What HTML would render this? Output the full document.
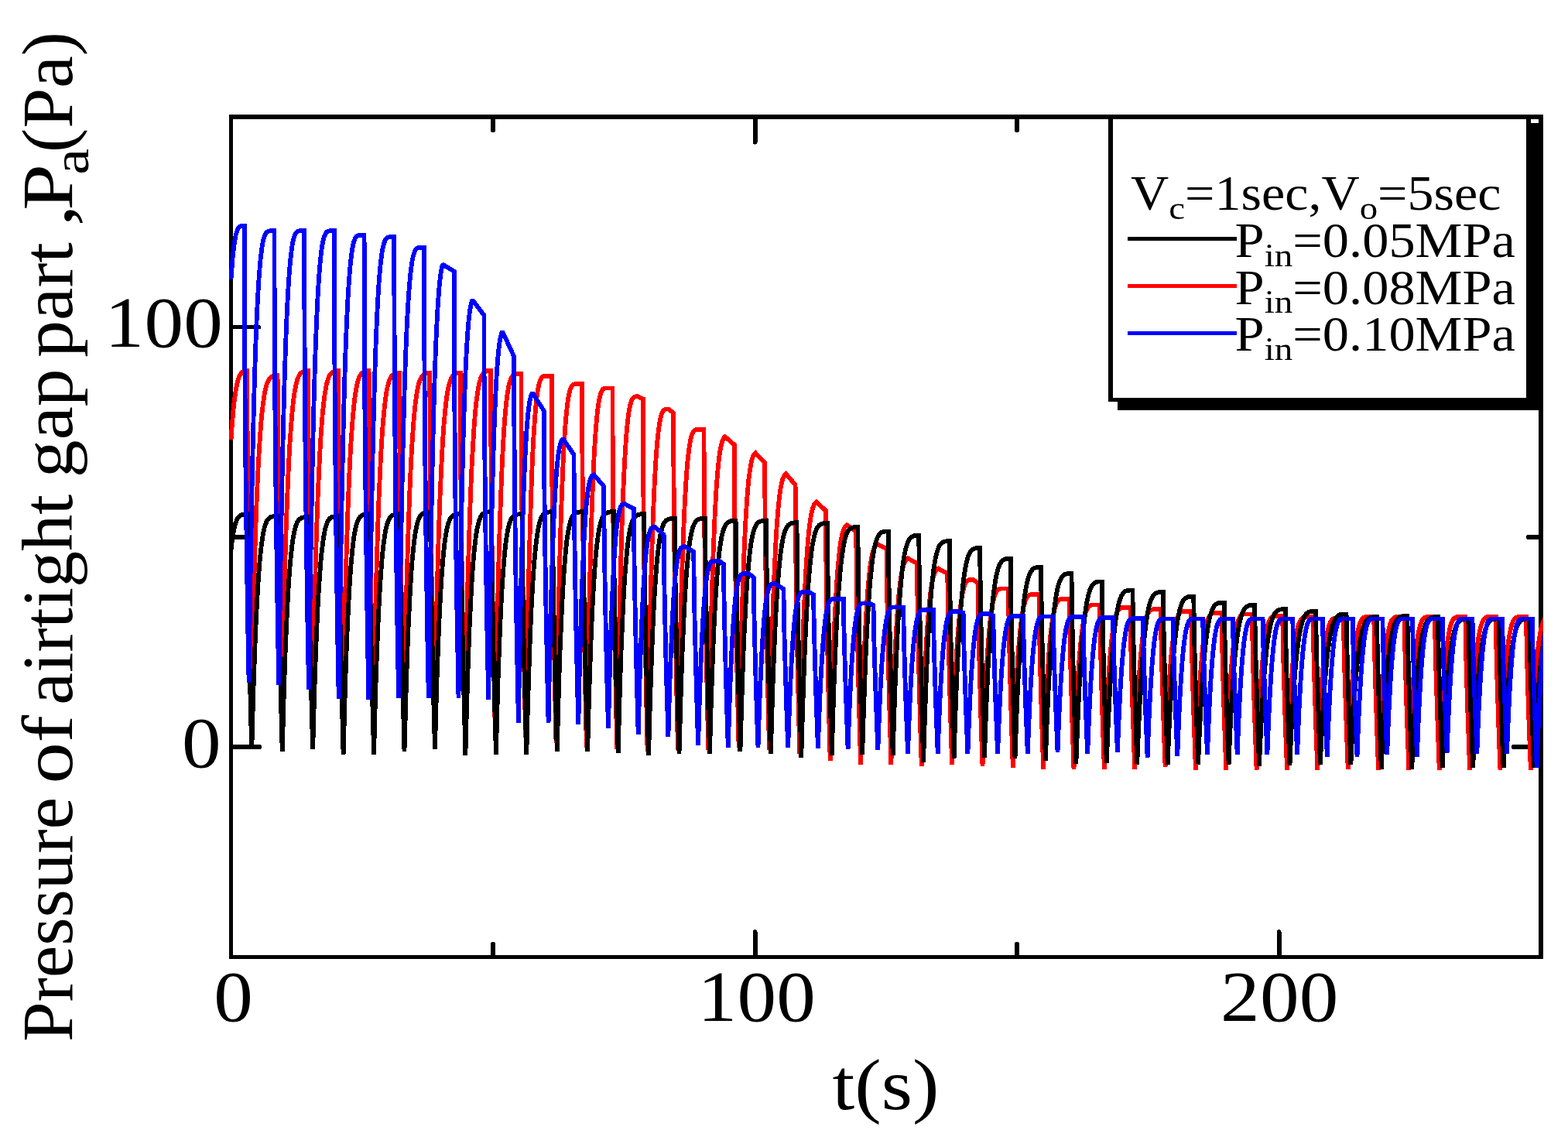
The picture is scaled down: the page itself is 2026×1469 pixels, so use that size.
<!DOCTYPE html>
<html lang="en"><head><meta charset="utf-8"><title>Pressure of airtight gap part</title>
<style>html,body{margin:0;padding:0;background:#fff;overflow:hidden}body{width:2026px;height:1469px}svg text{white-space:pre}</style>
</head><body>
<svg xmlns="http://www.w3.org/2000/svg" width="2026" height="1469" viewBox="0 0 2026 1469" style="display:block">
<rect x="0" y="0" width="2026" height="1469" fill="#ffffff"/>
<g stroke="#000" stroke-width="6" stroke-linecap="round" shape-rendering="crispEdges">
<line x1="637.0" y1="1236.5" x2="637.0" y2="1219.5"/>
<line x1="637.0" y1="151.2" x2="637.0" y2="168.2"/>
<line x1="975.5" y1="1236.5" x2="975.5" y2="1204.1"/>
<line x1="975.5" y1="151.2" x2="975.5" y2="183.6"/>
<line x1="1314.0" y1="1236.5" x2="1314.0" y2="1219.5"/>
<line x1="1314.0" y1="151.2" x2="1314.0" y2="168.2"/>
<line x1="1652.5" y1="1236.5" x2="1652.5" y2="1204.1"/>
<line x1="1652.5" y1="151.2" x2="1652.5" y2="183.6"/>
<line x1="298.5" y1="965.05" x2="335.0" y2="965.05" stroke-width="6"/>
<line x1="1991.0" y1="965.05" x2="1956.0" y2="965.05" stroke-width="6"/>
<line x1="298.5" y1="694.00" x2="316.5" y2="694.00" stroke-width="6"/>
<line x1="1991.0" y1="694.00" x2="1974.5" y2="694.00" stroke-width="6"/>
<line x1="298.5" y1="422.70" x2="335.0" y2="422.70" stroke-width="5"/>
<line x1="1991.0" y1="422.70" x2="1956.0" y2="422.70" stroke-width="5"/>
</g>
<g fill="#000" shape-rendering="crispEdges">
<rect x="296.0" y="148.0" width="1698.0" height="5.8"/>
<rect x="296.0" y="148.0" width="5.0" height="1090.8"/>
<rect x="296.0" y="1234.1" width="1698.0" height="4.7"/>
<rect x="1988.2" y="148.0" width="5.8" height="1090.8"/>
</g>
<clipPath id="plotclip"><rect x="296" y="148" width="1698" height="1090.8"/></clipPath>
<g shape-rendering="crispEdges" clip-path="url(#plotclip)">
<polyline points="298.5,568.4 299.1,559.4 299.7,551.1 300.3,543.5 300.9,536.6 301.4,530.2 302.0,524.4 302.6,519.1 303.2,514.3 303.8,509.9 304.4,506.0 305.0,502.5 305.6,499.4 306.2,496.6 306.8,494.1 307.3,491.9 307.9,489.9 308.5,488.2 309.1,486.7 309.7,485.5 310.3,484.3 310.9,483.4 311.5,482.6 312.1,481.8 312.7,481.2 313.2,480.7 313.8,480.3 314.4,479.9 315.0,479.6 315.6,479.3 316.2,479.1 319.2,479.1 319.4,530.4 319.8,581.7 320.3,633.0 321.0,684.3 321.8,735.6 322.8,786.9 323.8,838.2 325.0,889.5 326.0,841.1 327.0,797.3 328.1,757.6 329.1,721.9 330.1,689.9 331.1,661.3 332.1,635.9 333.1,613.3 334.2,593.4 335.2,576.0 336.2,560.8 337.2,547.7 338.2,536.4 339.3,526.8 340.3,518.6 341.3,511.8 342.3,506.1 343.3,501.4 344.4,497.6 345.4,494.6 346.4,492.2 347.4,490.4 348.4,488.9 349.4,487.8 350.5,487.0 351.5,486.4 352.5,486.0 353.5,485.6 354.5,485.3 355.6,485.0 358.6,485.0 358.7,536.4 359.1,587.9 359.7,639.3 360.3,690.8 361.2,742.2 362.1,793.6 363.2,845.1 364.4,896.5 365.4,846.6 366.4,801.3 367.4,760.4 368.4,723.6 369.4,690.6 370.5,661.0 371.5,634.8 372.5,611.5 373.5,591.0 374.5,573.0 375.6,557.4 376.6,543.8 377.6,532.2 378.6,522.2 379.6,513.8 380.6,506.7 381.7,500.9 382.7,496.1 383.7,492.1 384.7,489.0 385.7,486.6 386.8,484.6 387.8,483.2 388.8,482.0 389.8,481.2 390.8,480.6 391.9,480.1 392.9,479.7 393.9,479.4 394.9,479.1 397.9,479.1 398.1,532.1 398.4,585.2 399.0,638.2 399.7,691.3 400.5,744.3 401.4,797.4 402.5,850.5 403.7,903.5 404.7,852.7 405.7,806.7 406.8,765.1 407.8,727.7 408.8,694.1 409.8,664.1 410.8,637.4 411.9,613.7 412.9,592.9 413.9,574.6 414.9,558.7 415.9,544.9 416.9,533.0 418.0,522.9 419.0,514.4 420.0,507.2 421.0,501.2 422.0,496.3 423.1,492.4 424.1,489.2 425.1,486.7 426.1,484.7 427.1,483.2 428.1,482.1 429.2,481.2 430.2,480.6 431.2,480.1 432.2,479.7 433.2,479.4 434.3,479.1 437.3,479.1 437.4,533.0 437.8,586.9 438.3,640.9 439.0,694.8 439.8,748.7 440.8,802.6 441.9,856.6 443.1,910.5 444.1,858.9 445.1,812.2 446.1,769.9 447.1,731.8 448.2,697.7 449.2,667.2 450.2,640.0 451.2,616.0 452.2,594.8 453.2,576.3 454.3,560.1 455.3,546.1 456.3,534.0 457.3,523.7 458.3,515.0 459.4,507.7 460.4,501.7 461.4,496.7 462.4,492.7 463.4,489.5 464.4,486.9 465.5,484.9 466.5,483.4 467.5,482.2 468.5,481.4 469.5,480.7 470.6,480.2 471.6,479.8 472.6,479.5 473.6,479.2 476.6,479.2 476.8,534.0 477.1,588.8 477.7,643.6 478.3,698.4 479.2,753.1 480.1,807.9 481.2,862.7 482.4,917.5 483.4,865.4 484.4,818.2 485.5,775.5 486.5,737.1 487.5,702.6 488.5,671.8 489.5,644.4 490.6,620.1 491.6,598.7 492.6,580.0 493.6,563.7 494.6,549.5 495.7,537.4 496.7,527.0 497.7,518.2 498.7,510.8 499.7,504.7 500.7,499.7 501.8,495.6 502.8,492.4 503.8,489.8 504.8,487.8 505.8,486.2 506.9,485.1 507.9,484.2 508.9,483.5 509.9,483.0 510.9,482.6 511.9,482.3 513.0,482.0 516.0,482.0 516.1,537.3 516.5,592.6 517.0,647.9 517.7,703.2 518.5,758.6 519.5,813.9 520.6,869.2 521.8,924.5 522.8,871.6 523.8,823.6 524.8,780.2 525.8,741.2 526.9,706.2 527.9,674.9 528.9,647.0 529.9,622.4 530.9,600.6 531.9,581.6 533.0,565.0 534.0,550.6 535.0,538.2 536.0,527.7 537.0,518.8 538.1,511.3 539.1,505.1 540.1,500.0 541.1,495.8 542.1,492.5 543.2,489.9 544.2,487.9 545.2,486.3 546.2,485.1 547.2,484.2 548.2,483.6 549.3,483.1 550.3,482.6 551.3,482.3 552.3,482.0 555.3,482.0 555.5,538.2 555.8,594.4 556.3,650.6 557.0,706.8 557.9,762.9 558.8,819.1 559.9,875.3 561.1,931.5 562.1,877.7 563.2,829.0 564.2,785.0 565.2,745.3 566.2,709.7 567.2,677.9 568.2,649.6 569.3,624.6 570.3,602.5 571.3,583.1 572.3,566.3 573.3,551.7 574.4,539.1 575.4,528.4 576.4,519.4 577.4,511.8 578.4,505.4 579.4,500.3 580.5,496.1 581.5,492.7 582.5,490.0 583.5,488.0 584.5,486.4 585.6,485.2 586.6,484.3 587.6,483.6 588.6,483.1 589.6,482.7 590.7,482.3 591.7,482.0 594.7,482.0 594.8,539.1 595.2,596.1 595.7,653.2 596.4,710.2 597.2,767.3 598.2,824.4 599.2,881.4 600.5,938.5 601.5,883.5 602.5,833.7 603.5,788.6 604.5,748.0 605.6,711.6 606.6,679.1 607.6,650.2 608.6,624.5 609.6,602.0 610.7,582.2 611.7,564.9 612.7,550.0 613.7,537.1 614.7,526.2 615.7,516.9 616.8,509.1 617.8,502.7 618.8,497.4 619.8,493.1 620.8,489.6 621.9,486.9 622.9,484.8 623.9,483.2 624.9,481.9 625.9,481.0 627.0,480.3 628.0,479.8 629.0,479.4 630.0,479.0 631.0,478.7 634.0,478.7 634.2,537.0 634.5,595.4 635.0,653.8 635.7,712.1 636.5,770.5 637.5,828.8 638.6,887.1 639.8,945.5 640.8,887.4 641.9,834.9 642.9,787.6 643.9,745.3 644.9,707.5 645.9,673.9 647.0,644.2 648.0,618.1 649.0,595.3 650.0,575.5 651.0,558.5 652.0,543.9 653.1,531.6 654.1,521.2 655.1,512.6 656.1,505.6 657.1,499.9 658.2,495.4 659.2,491.9 660.2,489.3 661.2,487.3 662.2,485.8 663.2,484.8 664.3,484.1 665.3,483.7 666.3,483.4 667.3,483.2 668.3,483.0 669.4,482.9 670.4,482.7 673.4,482.7 673.5,541.4 673.9,600.1 674.4,658.9 675.0,717.6 675.9,776.3 676.8,835.0 677.9,893.8 679.2,952.5 680.3,884.8 681.4,824.6 682.5,771.4 683.7,724.5 684.8,683.4 685.9,647.8 687.0,617.1 688.1,590.9 689.2,568.7 690.4,550.1 691.5,534.8 692.6,522.3 693.7,512.3 694.8,504.5 696.0,498.4 697.1,494.0 698.2,490.8 699.3,488.5 700.4,487.1 701.5,486.3 702.7,485.8 703.8,485.7 704.9,485.6 706.0,485.6 707.1,485.6 708.3,485.6 709.4,485.6 710.5,485.6 711.6,485.6 712.7,485.6 712.9,544.8 713.2,604.1 713.7,663.3 714.4,722.5 715.2,781.8 716.2,841.0 717.3,900.3 718.5,959.5 719.6,892.4 720.8,832.6 721.9,779.8 723.0,733.2 724.1,692.5 725.2,657.2 726.4,626.7 727.5,600.7 728.6,578.7 729.7,560.2 730.8,545.0 732.0,532.6 733.1,522.7 734.2,514.9 735.3,508.9 736.4,504.5 737.5,501.3 738.7,499.1 739.8,497.7 740.9,496.9 742.0,496.4 743.1,496.3 744.3,496.2 745.4,496.2 746.5,496.2 747.6,496.2 748.7,496.2 749.8,496.2 751.0,496.2 752.1,496.2 752.2,554.9 752.6,613.6 753.1,672.3 753.8,731.0 754.6,789.7 755.5,848.4 756.6,907.1 757.9,965.8 759.0,898.5 760.1,838.6 761.2,785.6 762.4,739.0 763.5,698.2 764.6,662.7 765.7,632.2 766.8,606.1 767.9,584.1 769.1,565.6 770.2,550.3 771.3,537.9 772.4,528.0 773.5,520.2 774.7,514.2 775.8,509.7 776.9,506.5 778.0,504.3 779.1,502.9 780.3,502.1 781.4,501.6 782.5,501.5 783.6,501.4 784.7,501.4 785.8,501.4 787.0,501.4 788.1,501.4 789.2,501.4 790.3,501.4 791.4,501.4 791.6,559.7 791.9,617.9 792.4,676.2 793.1,734.5 793.9,792.7 794.9,851.0 796.0,909.2 797.2,967.5 798.1,913.8 799.0,864.9 799.9,820.5 800.8,780.3 801.7,744.1 802.6,711.6 803.5,682.5 804.4,656.7 805.3,633.9 806.2,613.8 807.1,596.2 808.0,581.0 808.9,567.9 809.8,556.7 810.7,547.2 811.6,539.3 812.5,532.8 813.4,527.5 814.3,523.3 815.2,520.0 816.1,517.5 817.0,515.6 817.9,514.3 818.8,513.4 819.7,512.8 820.6,512.5 821.5,512.3 822.4,512.2 823.3,512.2 824.2,512.2 830.8,515.4 830.9,572.4 831.3,629.4 831.8,686.4 832.5,743.3 833.3,800.3 834.3,857.3 835.4,914.3 836.6,971.3 837.5,919.1 838.4,871.5 839.3,828.3 840.2,789.2 841.1,754.0 842.0,722.4 842.9,694.1 843.8,669.0 844.7,646.8 845.6,627.2 846.5,610.1 847.4,595.3 848.3,582.6 849.2,571.7 850.1,562.5 851.0,554.8 851.9,548.5 852.8,543.3 853.7,539.2 854.6,536.0 855.5,533.5 856.4,531.7 857.3,530.4 858.2,529.5 859.1,529.0 860.0,528.7 860.9,528.5 861.8,528.4 862.7,528.4 863.6,528.4 870.1,533.4 870.3,587.8 870.7,642.2 871.2,696.7 871.9,751.1 872.7,805.5 873.7,859.9 874.7,914.4 875.9,968.8 877.1,908.8 878.2,855.5 879.3,808.2 880.4,766.6 881.5,730.3 882.7,698.7 883.8,671.5 884.9,648.2 886.0,628.6 887.1,612.1 888.2,598.5 889.4,587.4 890.5,578.6 891.6,571.6 892.7,566.3 893.8,562.3 895.0,559.5 896.1,557.5 897.2,556.3 898.3,555.5 899.4,555.1 900.5,555.0 901.7,554.9 902.8,554.9 903.9,554.9 905.0,554.9 906.1,554.9 907.3,554.9 908.4,554.9 909.5,554.9 909.7,607.7 910.0,659.3 910.6,710.9 911.3,762.5 912.1,814.0 913.1,865.6 914.1,917.2 915.3,968.8 916.0,930.4 916.7,894.6 917.4,861.5 918.2,830.9 918.9,802.6 919.6,776.6 920.3,752.7 921.0,730.8 921.7,710.8 922.5,692.7 923.2,676.2 923.9,661.3 924.6,647.8 925.3,635.8 926.0,625.1 926.8,615.5 927.5,607.1 928.2,599.7 928.9,593.3 929.6,587.7 930.3,583.0 931.1,578.9 931.8,575.5 932.5,572.6 933.2,570.3 933.9,568.4 934.6,566.9 935.4,565.7 936.1,564.8 936.8,564.2 948.8,574.6 949.0,623.6 949.4,672.5 950.0,721.5 950.7,770.5 951.5,819.5 952.4,868.5 953.5,917.4 954.6,966.4 955.4,930.2 956.1,896.5 956.8,865.3 957.5,836.5 958.2,809.9 958.9,785.3 959.7,762.8 960.4,742.2 961.1,723.4 961.8,706.2 962.5,690.7 963.2,676.6 964.0,664.0 964.7,652.7 965.4,642.5 966.1,633.6 966.8,625.6 967.5,618.7 968.3,612.6 969.0,607.4 969.7,602.9 970.4,599.0 971.1,595.8 971.8,593.1 972.6,590.9 973.3,589.1 974.0,587.7 974.7,586.6 975.4,585.8 976.1,585.2 988.2,598.0 988.4,644.4 988.8,690.7 989.4,737.0 990.1,783.4 990.9,829.8 991.8,876.1 992.9,922.4 994.0,968.8 994.7,934.9 995.4,903.4 996.2,874.2 996.9,847.2 997.6,822.3 998.3,799.4 999.0,778.3 999.7,759.0 1000.5,741.4 1001.2,725.3 1001.9,710.8 1002.6,697.7 1003.3,685.8 1004.0,675.2 1004.8,665.8 1005.5,657.4 1006.2,649.9 1006.9,643.4 1007.6,637.8 1008.3,632.9 1009.1,628.6 1009.8,625.1 1010.5,622.0 1011.2,619.5 1011.9,617.5 1012.6,615.8 1013.4,614.5 1014.1,613.4 1014.8,612.7 1015.5,612.1 1027.6,626.4 1027.8,669.8 1028.2,713.2 1028.8,756.7 1029.5,800.1 1030.3,843.5 1031.2,886.9 1032.2,930.4 1033.4,973.8 1034.1,942.9 1034.8,914.2 1035.5,887.6 1036.2,863.0 1036.9,840.2 1037.7,819.3 1038.4,800.1 1039.1,782.5 1039.8,766.5 1040.5,751.8 1041.2,738.6 1042.0,726.6 1042.7,715.8 1043.4,706.1 1044.1,697.5 1044.8,689.9 1045.5,683.1 1046.3,677.2 1047.0,672.0 1047.7,667.5 1048.4,663.7 1049.1,660.4 1049.8,657.7 1050.6,655.4 1051.3,653.5 1052.0,652.0 1052.7,650.8 1053.4,649.8 1054.1,649.1 1054.9,648.6 1066.9,659.7 1067.1,700.0 1067.6,740.4 1068.2,780.8 1068.9,821.1 1069.7,861.5 1070.6,901.8 1071.6,942.1 1072.7,982.5 1073.4,953.6 1074.1,926.7 1074.9,901.8 1075.6,878.8 1076.3,857.5 1077.0,838.0 1077.7,820.0 1078.4,803.5 1079.2,788.5 1079.9,774.8 1080.6,762.4 1081.3,751.2 1082.0,741.1 1082.7,732.1 1083.5,724.0 1084.2,716.8 1084.9,710.5 1085.6,704.9 1086.3,700.1 1087.0,695.9 1087.8,692.3 1088.5,689.2 1089.2,686.7 1089.9,684.5 1090.6,682.8 1091.3,681.4 1092.1,680.2 1092.8,679.3 1093.5,678.7 1094.2,678.2 1106.3,686.9 1106.5,724.5 1107.0,762.0 1107.6,799.6 1108.3,837.2 1109.1,874.8 1110.0,912.4 1111.0,949.9 1112.1,987.5 1112.8,960.5 1113.5,935.3 1114.2,912.1 1114.9,890.5 1115.6,870.6 1116.4,852.3 1117.1,835.5 1117.8,820.1 1118.5,806.1 1119.2,793.3 1119.9,781.7 1120.7,771.2 1121.4,761.7 1122.1,753.3 1122.8,745.7 1123.5,739.0 1124.2,733.1 1125.0,727.9 1125.7,723.4 1126.4,719.5 1127.1,716.1 1127.8,713.2 1128.5,710.8 1129.3,708.8 1130.0,707.2 1130.7,705.8 1131.4,704.8 1132.1,704.0 1132.8,703.4 1133.6,702.9 1145.6,709.1 1145.9,743.9 1146.4,778.7 1147.0,813.5 1147.7,848.3 1148.5,883.1 1149.4,917.9 1150.4,952.7 1151.4,987.5 1152.1,962.2 1152.8,938.7 1153.6,917.0 1154.3,896.8 1155.0,878.2 1155.7,861.1 1156.4,845.4 1157.1,831.0 1157.9,817.8 1158.6,805.9 1159.3,795.0 1160.0,785.2 1160.7,776.4 1161.4,768.5 1162.2,761.4 1162.9,755.2 1163.6,749.6 1164.3,744.8 1165.0,740.5 1165.7,736.9 1166.5,733.7 1167.2,731.1 1167.9,728.8 1168.6,726.9 1169.3,725.4 1170.0,724.2 1170.8,723.2 1171.5,722.4 1172.2,721.8 1172.9,721.4 1185.0,727.6 1185.3,760.4 1185.7,793.2 1186.4,826.0 1187.1,858.8 1187.9,891.5 1188.8,924.3 1189.7,957.1 1190.8,989.9 1191.5,965.6 1192.2,943.1 1192.9,922.2 1193.6,902.9 1194.3,885.0 1195.1,868.6 1195.8,853.5 1196.5,839.7 1197.2,827.1 1197.9,815.6 1198.6,805.2 1199.4,795.8 1200.1,787.3 1200.8,779.7 1201.5,772.9 1202.2,766.9 1202.9,761.6 1203.7,756.9 1204.4,752.9 1205.1,749.4 1205.8,746.3 1206.5,743.8 1207.2,741.6 1208.0,739.8 1208.7,738.3 1209.4,737.1 1210.1,736.2 1210.8,735.5 1211.5,734.9 1212.3,734.5 1224.3,741.2 1224.6,772.0 1225.1,802.8 1225.8,833.6 1226.5,864.3 1227.3,895.1 1228.2,925.9 1229.1,956.7 1230.1,987.5 1231.0,959.3 1231.9,933.7 1232.8,910.4 1233.7,889.3 1234.6,870.3 1235.5,853.2 1236.4,838.0 1237.3,824.4 1238.2,812.4 1239.1,801.9 1240.0,792.7 1240.9,784.7 1241.8,777.8 1242.7,771.9 1243.6,767.0 1244.5,762.8 1245.4,759.4 1246.3,756.7 1247.2,754.4 1248.1,752.7 1249.0,751.4 1249.9,750.4 1250.8,749.7 1251.7,749.2 1252.6,748.9 1253.5,748.7 1254.4,748.6 1255.3,748.6 1256.2,748.6 1257.1,748.6 1263.7,753.5 1264.0,783.0 1264.5,812.6 1265.1,842.1 1265.9,871.7 1266.7,901.2 1267.5,930.8 1268.5,960.3 1269.5,989.9 1270.6,956.6 1271.7,927.1 1272.8,900.9 1273.9,877.8 1275.1,857.6 1276.2,840.1 1277.3,825.0 1278.4,812.2 1279.5,801.2 1280.7,792.1 1281.8,784.6 1282.9,778.4 1284.0,773.5 1285.1,769.7 1286.2,766.7 1287.4,764.5 1288.5,762.9 1289.6,761.8 1290.7,761.2 1291.8,760.7 1293.0,760.5 1294.1,760.4 1295.2,760.4 1296.3,760.4 1297.4,760.4 1298.6,760.4 1299.7,760.4 1300.8,760.4 1301.9,760.4 1303.0,760.4 1303.3,790.2 1303.9,818.9 1304.5,847.7 1305.2,876.5 1306.0,905.2 1306.9,934.0 1307.8,962.7 1308.8,991.5 1309.9,959.1 1311.1,930.4 1312.2,904.9 1313.3,882.4 1314.4,862.8 1315.5,845.8 1316.7,831.1 1317.8,818.6 1318.9,807.9 1320.0,799.1 1321.1,791.7 1322.2,785.8 1323.4,781.0 1324.5,777.2 1325.6,774.3 1326.7,772.2 1327.8,770.7 1329.0,769.6 1330.1,768.9 1331.2,768.5 1332.3,768.3 1333.4,768.2 1334.5,768.2 1335.7,768.2 1336.8,768.2 1337.9,768.2 1339.0,768.2 1340.1,768.2 1341.3,768.2 1342.4,768.2 1342.7,797.3 1343.2,825.5 1343.9,853.6 1344.6,881.8 1345.4,909.9 1346.3,938.0 1347.2,966.2 1348.2,994.3 1349.3,962.3 1350.4,933.9 1351.5,908.7 1352.7,886.5 1353.8,867.1 1354.9,850.3 1356.0,835.8 1357.1,823.4 1358.2,812.9 1359.4,804.1 1360.5,796.9 1361.6,791.0 1362.7,786.2 1363.8,782.5 1365.0,779.7 1366.1,777.6 1367.2,776.0 1368.3,775.0 1369.4,774.3 1370.5,773.9 1371.7,773.7 1372.8,773.6 1373.9,773.6 1375.0,773.6 1376.1,773.6 1377.3,773.6 1378.4,773.6 1379.5,773.6 1380.6,773.6 1381.7,773.6 1382.1,802.1 1382.6,829.5 1383.2,857.0 1384.0,884.5 1384.8,911.9 1385.6,939.4 1386.6,966.8 1387.5,994.3 1388.6,963.5 1389.8,936.0 1390.9,911.7 1392.0,890.4 1393.1,871.7 1394.2,855.4 1395.4,841.4 1396.5,829.5 1397.6,819.4 1398.7,810.9 1399.8,803.9 1401.0,798.2 1402.1,793.7 1403.2,790.1 1404.3,787.4 1405.4,785.3 1406.5,783.8 1407.7,782.8 1408.8,782.2 1409.9,781.8 1411.0,781.6 1412.1,781.5 1413.3,781.5 1414.4,781.5 1415.5,781.5 1416.6,781.5 1417.7,781.5 1418.8,781.5 1420.0,781.5 1421.1,781.5 1421.4,808.1 1422.0,834.7 1422.6,861.3 1423.3,887.9 1424.1,914.5 1425.0,941.1 1425.9,967.7 1426.9,994.3 1428.0,963.9 1429.1,936.9 1430.2,913.0 1431.4,891.9 1432.5,873.5 1433.6,857.5 1434.7,843.7 1435.8,832.0 1436.9,822.0 1438.1,813.7 1439.2,806.8 1440.3,801.2 1441.4,796.7 1442.5,793.2 1443.7,790.5 1444.8,788.5 1445.9,787.0 1447.0,786.0 1448.1,785.4 1449.3,785.0 1450.4,784.8 1451.5,784.7 1452.6,784.7 1453.7,784.7 1454.8,784.7 1456.0,784.7 1457.1,784.7 1458.2,784.7 1459.3,784.7 1460.4,784.7 1460.8,811.8 1461.3,837.8 1462.0,863.9 1462.7,890.0 1463.5,916.1 1464.4,942.1 1465.3,968.2 1466.2,994.3 1467.4,964.3 1468.5,937.6 1469.6,914.0 1470.7,893.1 1471.8,875.0 1472.9,859.1 1474.1,845.5 1475.2,833.9 1476.3,824.1 1477.4,815.8 1478.5,809.0 1479.7,803.5 1480.8,799.0 1481.9,795.6 1483.0,792.9 1484.1,790.9 1485.3,789.5 1486.4,788.5 1487.5,787.9 1488.6,787.5 1489.7,787.3 1490.8,787.2 1492.0,787.2 1493.1,787.2 1494.2,787.2 1495.3,787.2 1496.4,787.2 1497.6,787.2 1498.7,787.2 1499.8,787.2 1500.1,813.5 1500.7,838.8 1501.3,864.1 1502.1,889.3 1502.9,914.6 1503.7,939.9 1504.6,965.2 1505.6,990.5 1506.7,961.4 1507.8,935.5 1508.9,912.6 1510.1,892.4 1511.2,874.8 1512.3,859.5 1513.4,846.3 1514.5,835.0 1515.7,825.4 1516.8,817.5 1517.9,810.9 1519.0,805.5 1520.1,801.2 1521.2,797.8 1522.4,795.2 1523.5,793.3 1524.6,791.9 1525.7,791.0 1526.8,790.4 1528.0,790.0 1529.1,789.8 1530.2,789.7 1531.3,789.7 1532.4,789.7 1533.6,789.7 1534.7,789.7 1535.8,789.7 1536.9,789.7 1538.0,789.7 1539.1,789.7 1539.5,816.2 1540.0,841.7 1540.7,867.2 1541.4,892.8 1542.2,918.3 1543.1,943.8 1544.0,969.3 1544.9,994.8 1546.1,965.4 1547.2,939.3 1548.3,916.2 1549.4,895.8 1550.5,878.0 1551.7,862.5 1552.8,849.2 1553.9,837.8 1555.0,828.2 1556.1,820.1 1557.2,813.5 1558.4,808.0 1559.5,803.7 1560.6,800.3 1561.7,797.7 1562.8,795.7 1564.0,794.3 1565.1,793.4 1566.2,792.8 1567.3,792.4 1568.4,792.2 1569.5,792.1 1570.7,792.1 1571.8,792.1 1572.9,792.1 1574.0,792.1 1575.1,792.1 1576.3,792.1 1577.4,792.1 1578.5,792.1 1578.9,818.3 1579.4,843.5 1580.1,868.7 1580.8,894.0 1581.6,919.2 1582.4,944.4 1583.3,969.6 1584.3,994.8 1585.4,965.6 1586.5,939.6 1587.7,916.7 1588.8,896.4 1589.9,878.7 1591.0,863.4 1592.1,850.1 1593.2,838.8 1594.4,829.2 1595.5,821.2 1596.6,814.6 1597.7,809.2 1598.8,804.9 1600.0,801.5 1601.1,798.9 1602.2,797.0 1603.3,795.6 1604.4,794.7 1605.5,794.1 1606.7,793.7 1607.8,793.5 1608.9,793.4 1610.0,793.4 1611.1,793.4 1612.3,793.4 1613.4,793.4 1614.5,793.4 1615.6,793.4 1616.7,793.4 1617.8,793.4 1618.2,819.4 1618.8,844.5 1619.4,869.5 1620.1,894.6 1620.9,919.6 1621.8,944.7 1622.7,969.8 1623.6,994.8 1624.8,966.0 1625.9,940.3 1627.0,917.6 1628.1,897.7 1629.2,880.2 1630.4,865.0 1631.5,851.9 1632.6,840.8 1633.7,831.3 1634.8,823.4 1636.0,816.9 1637.1,811.5 1638.2,807.3 1639.3,803.9 1640.4,801.4 1641.5,799.5 1642.7,798.1 1643.8,797.2 1644.9,796.6 1646.0,796.2 1647.1,796.0 1648.3,795.9 1649.4,795.9 1650.5,795.9 1651.6,795.9 1652.7,795.9 1653.8,795.9 1655.0,795.9 1656.1,795.9 1657.2,795.9 1657.6,820.8 1658.1,845.6 1658.8,870.5 1659.5,895.3 1660.3,920.2 1661.1,945.1 1662.1,969.9 1663.0,994.8 1664.1,966.2 1665.2,940.7 1666.4,918.1 1667.5,898.2 1668.6,880.9 1669.7,865.8 1670.8,852.8 1671.9,841.7 1673.1,832.3 1674.2,824.4 1675.3,817.9 1676.4,812.6 1677.5,808.4 1678.7,805.1 1679.8,802.5 1680.9,800.6 1682.0,799.3 1683.1,798.3 1684.3,797.7 1685.4,797.4 1686.5,797.2 1687.6,797.1 1688.7,797.1 1689.8,797.1 1691.0,797.1 1692.1,797.1 1693.2,797.1 1694.3,797.1 1695.4,797.1 1696.6,797.1 1696.9,821.8 1697.5,846.5 1698.1,871.2 1698.9,896.0 1699.7,920.7 1700.5,945.4 1701.4,970.1 1702.4,994.8 1703.5,966.3 1704.6,941.0 1705.7,918.6 1706.8,898.8 1707.9,881.6 1709.1,866.6 1710.2,853.6 1711.3,842.6 1712.4,833.3 1713.5,825.5 1714.7,819.0 1715.8,813.7 1716.9,809.5 1718.0,806.2 1719.1,803.7 1720.2,801.8 1721.4,800.5 1722.5,799.5 1723.6,798.9 1724.7,798.6 1725.8,798.4 1727.0,798.3 1728.1,798.3 1729.2,798.3 1730.3,798.3 1731.4,798.3 1732.6,798.3 1733.7,798.3 1734.8,798.3 1735.9,798.3 1736.3,822.7 1736.8,847.1 1737.5,871.5 1738.2,895.9 1739.0,920.3 1739.9,944.7 1740.8,969.1 1741.7,993.5 1742.8,965.0 1743.9,939.7 1745.1,917.2 1746.2,897.5 1747.3,880.2 1748.4,865.2 1749.5,852.3 1750.7,841.2 1751.8,831.9 1752.9,824.1 1754.0,817.6 1755.1,812.4 1756.2,808.1 1757.4,804.8 1758.5,802.3 1759.6,800.4 1760.7,799.1 1761.8,798.1 1763.0,797.5 1764.1,797.2 1765.2,797.0 1766.3,796.9 1767.4,796.9 1768.6,796.9 1769.7,796.9 1770.8,796.9 1771.9,796.9 1773.0,796.9 1774.1,796.9 1775.3,796.9 1775.6,821.6 1776.2,846.4 1776.8,871.1 1777.6,895.8 1778.4,920.6 1779.2,945.3 1780.1,970.1 1781.1,994.8 1782.2,966.1 1783.3,940.6 1784.4,918.0 1785.5,898.1 1786.7,880.8 1787.8,865.7 1788.9,852.6 1790.0,841.5 1791.1,832.1 1792.2,824.3 1793.4,817.8 1794.5,812.5 1795.6,808.2 1796.7,804.9 1797.8,802.3 1799.0,800.4 1800.1,799.1 1801.2,798.1 1802.3,797.5 1803.4,797.2 1804.5,797.0 1805.7,796.9 1806.8,796.9 1807.9,796.9 1809.0,796.9 1810.1,796.9 1811.3,796.9 1812.4,796.9 1813.5,796.9 1814.6,796.9 1815.0,821.6 1815.5,846.4 1816.2,871.1 1816.9,895.8 1817.7,920.6 1818.6,945.3 1819.5,970.1 1820.4,994.8 1821.5,966.1 1822.7,940.6 1823.8,918.0 1824.9,898.1 1826.0,880.8 1827.1,865.7 1828.2,852.6 1829.4,841.5 1830.5,832.1 1831.6,824.3 1832.7,817.8 1833.8,812.5 1835.0,808.2 1836.1,804.9 1837.2,802.3 1838.3,800.4 1839.4,799.1 1840.5,798.1 1841.7,797.5 1842.8,797.2 1843.9,797.0 1845.0,796.9 1846.1,796.9 1847.3,796.9 1848.4,796.9 1849.5,796.9 1850.6,796.9 1851.7,796.9 1852.8,796.9 1854.0,796.9 1854.3,821.6 1854.9,846.4 1855.5,871.1 1856.3,895.8 1857.1,920.6 1857.9,945.3 1858.8,970.1 1859.8,994.8 1860.9,966.1 1862.0,940.6 1863.1,918.0 1864.2,898.1 1865.4,880.8 1866.5,865.7 1867.6,852.6 1868.7,841.5 1869.8,832.1 1871.0,824.3 1872.1,817.8 1873.2,812.5 1874.3,808.2 1875.4,804.9 1876.5,802.3 1877.7,800.4 1878.8,799.1 1879.9,798.1 1881.0,797.5 1882.1,797.2 1883.3,797.0 1884.4,796.9 1885.5,796.9 1886.6,796.9 1887.7,796.9 1888.8,796.9 1890.0,796.9 1891.1,796.9 1892.2,796.9 1893.3,796.9 1893.7,821.6 1894.2,846.4 1894.9,871.1 1895.6,895.8 1896.4,920.6 1897.3,945.3 1898.2,970.1 1899.1,994.8 1900.2,966.1 1901.4,940.6 1902.5,918.0 1903.6,898.1 1904.7,880.8 1905.8,865.7 1906.9,852.6 1908.1,841.5 1909.2,832.1 1910.3,824.3 1911.4,817.8 1912.5,812.5 1913.7,808.2 1914.8,804.9 1915.9,802.3 1917.0,800.4 1918.1,799.1 1919.3,798.1 1920.4,797.5 1921.5,797.2 1922.6,797.0 1923.7,796.9 1924.8,796.9 1926.0,796.9 1927.1,796.9 1928.2,796.9 1929.3,796.9 1930.4,796.9 1931.6,796.9 1932.7,796.9 1933.0,821.6 1933.6,846.4 1934.2,871.1 1935.0,895.8 1935.8,920.6 1936.6,945.3 1937.5,970.1 1938.5,994.8 1939.6,966.1 1940.7,940.6 1941.8,918.0 1942.9,898.1 1944.1,880.8 1945.2,865.7 1946.3,852.6 1947.4,841.5 1948.5,832.1 1949.7,824.3 1950.8,817.8 1951.9,812.5 1953.0,808.2 1954.1,804.9 1955.2,802.3 1956.4,800.4 1957.5,799.1 1958.6,798.1 1959.7,797.5 1960.8,797.2 1962.0,797.0 1963.1,796.9 1964.2,796.9 1965.3,796.9 1966.4,796.9 1967.6,796.9 1968.7,796.9 1969.8,796.9 1970.9,796.9 1972.0,796.9 1972.4,821.6 1972.9,846.4 1973.6,871.1 1974.3,895.8 1975.1,920.6 1976.0,945.3 1976.9,970.1 1977.8,994.8 1978.9,966.1 1980.1,940.6 1981.2,918.0 1982.3,898.1 1983.4,880.8 1984.5,865.7 1985.7,852.6 1986.8,841.5 1987.9,832.1 1989.0,824.3 1990.1,817.8 1991.2,812.5 1992.4,808.2 1993.5,804.9 1994.6,802.3 1995.7,800.4 1996.0,800.1" fill="none" stroke="#ff0000" stroke-width="5.8" stroke-linejoin="miter" stroke-miterlimit="1.45" stroke-linecap="butt"/>
<polyline points="298.5,710.8 299.1,705.4 299.7,700.5 300.3,696.0 300.9,692.0 301.5,688.4 302.1,685.2 302.7,682.3 303.3,679.8 303.9,677.6 304.5,675.6 305.1,673.9 305.7,672.4 306.3,671.1 306.9,670.0 307.5,669.0 308.1,668.2 308.7,667.5 309.3,667.0 309.9,666.5 310.5,666.1 311.1,665.8 311.7,665.5 312.3,665.2 312.9,665.0 313.5,664.9 314.1,664.7 314.7,664.6 315.3,664.5 315.9,664.3 316.5,664.2 319.5,664.2 319.7,702.2 320.2,740.2 320.8,778.3 321.5,816.3 322.3,854.3 323.3,892.3 324.2,930.4 325.3,968.4 326.3,929.9 327.3,895.3 328.4,864.2 329.4,836.5 330.4,811.8 331.4,790.0 332.5,770.8 333.5,753.9 334.5,739.3 335.5,726.6 336.5,715.7 337.6,706.4 338.6,698.6 339.6,692.0 340.6,686.6 341.6,682.1 342.7,678.5 343.7,675.7 344.7,673.4 345.7,671.7 346.8,670.4 347.8,669.4 348.8,668.7 349.8,668.1 350.8,667.8 351.9,667.5 352.9,667.2 353.9,667.0 354.9,666.8 355.9,666.6 358.9,666.6 359.2,704.6 359.7,742.6 360.3,780.7 361.0,818.7 361.8,856.7 362.7,894.8 363.7,932.8 364.7,970.8 365.8,932.2 366.8,897.4 367.8,866.2 368.8,838.4 369.9,813.6 370.9,791.7 371.9,772.4 372.9,755.5 373.9,740.7 375.0,728.0 376.0,717.1 377.0,707.8 378.0,699.9 379.0,693.3 380.1,687.8 381.1,683.4 382.1,679.8 383.1,676.9 384.2,674.6 385.2,672.9 386.2,671.6 387.2,670.6 388.2,669.9 389.3,669.3 390.3,669.0 391.3,668.7 392.3,668.4 393.3,668.2 394.4,668.0 395.4,667.8 398.4,667.8 398.6,705.4 399.1,742.9 399.7,780.5 400.4,818.1 401.2,855.7 402.1,893.2 403.1,930.8 404.2,968.4 405.2,929.9 406.2,895.3 407.3,864.2 408.3,836.5 409.3,811.8 410.3,790.0 411.3,770.8 412.4,753.9 413.4,739.3 414.4,726.6 415.4,715.7 416.5,706.4 417.5,698.6 418.5,692.0 419.5,686.6 420.5,682.1 421.6,678.5 422.6,675.7 423.6,673.4 424.6,671.7 425.6,670.4 426.7,669.4 427.7,668.7 428.7,668.1 429.7,667.8 430.8,667.5 431.8,667.2 432.8,667.0 433.8,666.8 434.8,666.6 437.8,666.6 438.1,705.1 438.5,743.6 439.1,782.1 439.9,820.5 440.7,859.0 441.6,897.5 442.6,936.0 443.6,974.5 444.7,934.9 445.7,899.3 446.7,867.4 447.7,838.8 448.7,813.5 449.8,791.0 450.8,771.2 451.8,753.9 452.8,738.8 453.9,725.8 454.9,714.6 455.9,705.0 456.9,697.0 457.9,690.2 459.0,684.6 460.0,680.1 461.0,676.4 462.0,673.4 463.0,671.1 464.1,669.3 465.1,668.0 466.1,667.0 467.1,666.2 468.2,665.7 469.2,665.3 470.2,665.0 471.2,664.7 472.2,664.5 473.3,664.3 474.3,664.1 477.3,664.1 477.5,702.9 478.0,741.7 478.6,780.5 479.3,819.3 480.1,858.1 481.0,896.9 482.0,935.7 483.1,974.5 484.1,934.9 485.1,899.3 486.1,867.4 487.2,838.8 488.2,813.5 489.2,791.0 490.2,771.2 491.3,753.9 492.3,738.8 493.3,725.8 494.3,714.6 495.3,705.0 496.4,697.0 497.4,690.2 498.4,684.6 499.4,680.1 500.5,676.4 501.5,673.4 502.5,671.1 503.5,669.3 504.5,668.0 505.6,667.0 506.6,666.2 507.6,665.7 508.6,665.3 509.6,665.0 510.7,664.7 511.7,664.5 512.7,664.3 513.7,664.1 516.7,664.1 517.0,702.4 517.4,740.8 518.0,779.1 518.8,817.5 519.6,855.8 520.5,894.1 521.5,932.5 522.5,970.8 523.6,931.4 524.6,895.9 525.6,864.1 526.6,835.7 527.6,810.4 528.7,788.1 529.7,768.4 530.7,751.1 531.7,736.1 532.7,723.1 533.8,712.0 534.8,702.5 535.8,694.4 536.8,687.7 537.9,682.1 538.9,677.6 539.9,673.9 540.9,671.0 541.9,668.7 543.0,666.9 544.0,665.6 545.0,664.5 546.0,663.8 547.0,663.3 548.1,662.9 549.1,662.6 550.1,662.3 551.1,662.1 552.2,661.9 553.2,661.7 556.2,661.7 556.4,700.0 556.9,738.4 557.5,776.7 558.2,815.0 559.0,853.4 559.9,891.7 560.9,930.1 562.0,968.4 563.0,929.6 564.0,894.7 565.0,863.4 566.1,835.4 567.1,810.5 568.1,788.5 569.1,769.1 570.1,752.1 571.2,737.4 572.2,724.6 573.2,713.6 574.2,704.2 575.3,696.3 576.3,689.7 577.3,684.2 578.3,679.7 579.3,676.1 580.4,673.2 581.4,671.0 582.4,669.2 583.4,667.9 584.4,666.9 585.5,666.2 586.5,665.6 587.5,665.3 588.5,665.0 589.6,664.7 590.6,664.5 591.6,664.3 592.6,664.1 595.6,664.1 595.9,703.1 596.3,742.0 596.9,781.0 597.6,820.0 598.4,858.9 599.4,897.9 600.4,936.8 601.4,975.8 602.4,935.7 603.5,899.6 604.5,867.2 605.5,838.3 606.5,812.6 607.6,789.8 608.6,769.8 609.6,752.2 610.6,736.9 611.6,723.7 612.7,712.4 613.7,702.7 614.7,694.5 615.7,687.7 616.7,682.0 617.8,677.4 618.8,673.6 619.8,670.6 620.8,668.3 621.9,666.5 622.9,665.1 623.9,664.1 624.9,663.3 625.9,662.8 627.0,662.4 628.0,662.1 629.0,661.8 630.0,661.6 631.0,661.4 632.1,661.2 635.1,661.2 635.3,700.4 635.8,739.5 636.4,778.7 637.1,817.8 637.9,857.0 638.8,896.2 639.8,935.3 640.9,974.5 641.9,934.9 642.9,899.3 643.9,867.4 645.0,838.8 646.0,813.5 647.0,791.0 648.0,771.2 649.0,753.9 650.1,738.8 651.1,725.8 652.1,714.6 653.1,705.0 654.1,697.0 655.2,690.2 656.2,684.6 657.2,680.1 658.2,676.4 659.3,673.4 660.3,671.1 661.3,669.3 662.3,668.0 663.3,667.0 664.4,666.2 665.4,665.7 666.4,665.3 667.4,665.0 668.4,664.7 669.5,664.5 670.5,664.3 671.5,664.1 674.5,664.1 674.8,702.9 675.2,741.7 675.8,780.5 676.5,819.3 677.3,858.1 678.3,896.9 679.2,935.7 680.3,974.5 681.3,934.6 682.4,898.6 683.4,866.4 684.4,837.6 685.4,812.0 686.4,789.3 687.5,769.3 688.5,751.8 689.5,736.6 690.5,723.5 691.6,712.1 692.6,702.5 693.6,694.4 694.6,687.6 695.6,681.9 696.7,677.3 697.7,673.6 698.7,670.6 699.7,668.3 700.7,666.5 701.8,665.1 702.8,664.1 703.8,663.3 704.8,662.8 705.9,662.4 706.9,662.1 707.9,661.8 708.9,661.6 709.9,661.4 711.0,661.2 714.0,661.2 714.2,699.9 714.7,738.6 715.3,777.3 716.0,816.0 716.8,854.7 717.7,893.4 718.7,932.1 719.8,970.8 720.8,931.3 721.8,895.8 722.8,863.9 723.8,835.5 724.9,810.2 725.9,787.8 726.9,768.0 727.9,750.8 729.0,735.7 730.0,722.7 731.0,711.5 732.0,702.0 733.0,694.0 734.1,687.3 735.1,681.7 736.1,677.1 737.1,673.4 738.1,670.5 739.2,668.2 740.2,666.4 741.2,665.1 742.2,664.1 743.3,663.3 744.3,662.8 745.3,662.4 746.3,662.1 747.3,661.8 748.4,661.6 749.4,661.4 750.4,661.2 753.4,661.2 753.6,699.9 754.1,738.6 754.7,777.3 755.4,816.0 756.2,854.7 757.1,893.4 758.1,932.1 759.2,970.8 760.2,931.3 761.2,895.8 762.3,863.9 763.3,835.5 764.3,810.2 765.3,787.8 766.4,768.0 767.4,750.8 768.4,735.7 769.4,722.7 770.4,711.5 771.5,702.0 772.5,694.0 773.5,687.3 774.5,681.7 775.6,677.1 776.6,673.4 777.6,670.5 778.6,668.2 779.6,666.4 780.7,665.1 781.7,664.1 782.7,663.3 783.7,662.8 784.7,662.4 785.8,662.1 786.8,661.8 787.8,661.6 788.8,661.4 789.9,661.2 792.9,661.2 793.1,700.1 793.5,739.0 794.1,777.9 794.9,816.8 795.7,855.8 796.6,894.7 797.6,933.6 798.7,972.5 799.7,933.2 800.7,897.8 801.7,866.1 802.7,837.7 803.8,812.5 804.8,790.2 805.8,770.5 806.8,753.3 807.8,738.3 808.9,725.4 809.9,714.3 810.9,704.8 811.9,696.8 813.0,690.1 814.0,684.5 815.0,680.0 816.0,676.3 817.0,673.4 818.1,671.1 819.1,669.3 820.1,667.9 821.1,666.9 822.1,666.2 823.2,665.7 824.2,665.3 825.2,665.0 826.2,664.7 827.3,664.5 828.3,664.3 829.3,664.1 832.3,664.1 832.5,703.1 833.0,742.1 833.6,781.2 834.3,820.2 835.1,859.2 836.0,898.2 837.0,937.3 838.1,976.3 839.1,937.5 840.1,902.6 841.2,871.2 842.2,843.1 843.2,818.1 844.2,796.0 845.2,776.5 846.3,759.4 847.3,744.5 848.3,731.5 849.3,720.4 850.4,710.9 851.4,702.8 852.4,696.1 853.4,690.5 854.4,685.9 855.5,682.1 856.5,679.2 857.5,676.8 858.5,675.0 859.6,673.6 860.6,672.5 861.6,671.8 862.6,671.2 863.6,670.8 864.7,670.5 865.7,670.2 866.7,670.0 867.7,669.8 868.7,669.6 871.7,669.6 872.0,707.6 872.5,745.6 873.1,783.7 873.8,821.7 874.6,859.7 875.5,897.8 876.5,935.8 877.5,973.8 878.6,935.6 879.6,901.2 880.6,870.3 881.6,842.6 882.7,817.9 883.7,796.0 884.7,776.7 885.7,759.7 886.7,744.9 887.8,732.0 888.8,720.9 889.8,711.4 890.8,703.3 891.8,696.6 892.9,690.9 893.9,686.3 894.9,682.5 895.9,679.4 897.0,677.0 898.0,675.2 899.0,673.7 900.0,672.7 901.0,671.8 902.1,671.3 903.1,670.8 904.1,670.5 905.1,670.2 906.1,670.0 907.2,669.8 908.2,669.6 911.2,669.6 911.4,707.6 911.9,745.6 912.5,783.7 913.2,821.7 914.0,859.7 914.9,897.8 915.9,935.8 917.0,973.8 918.0,936.3 919.0,902.4 920.1,872.0 921.1,844.7 922.1,820.4 923.1,798.7 924.1,779.6 925.2,762.8 926.2,748.1 927.2,735.3 928.2,724.3 929.2,714.8 930.3,706.8 931.3,700.0 932.3,694.3 933.3,689.6 934.4,685.8 935.4,682.7 936.4,680.3 937.4,678.4 938.4,676.9 939.5,675.8 940.5,674.9 941.5,674.3 942.5,673.8 943.5,673.5 944.6,673.2 945.6,673.0 946.6,672.8 947.6,672.6 950.6,672.6 950.9,710.0 951.4,747.3 952.0,784.6 952.7,822.0 953.5,859.4 954.4,896.7 955.4,934.0 956.4,971.4 957.5,934.5 958.5,901.1 959.5,871.1 960.5,844.1 961.5,820.1 962.6,798.7 963.6,779.8 964.6,763.1 965.6,748.5 966.7,735.8 967.7,724.8 968.7,715.3 969.7,707.2 970.7,700.4 971.8,694.7 972.8,690.0 973.8,686.1 974.8,683.0 975.8,680.5 976.9,678.5 977.9,677.0 978.9,675.9 979.9,675.0 981.0,674.4 982.0,673.9 983.0,673.5 984.0,673.2 985.0,673.0 986.1,672.8 987.1,672.6 990.1,672.6 990.3,710.2 990.8,747.9 991.4,785.5 992.1,823.2 992.9,860.8 993.8,898.5 994.8,936.1 995.9,973.8 996.9,937.2 997.9,904.1 998.9,874.3 1000.0,847.5 1001.0,823.5 1002.0,802.2 1003.0,783.3 1004.1,766.7 1005.1,752.1 1006.1,739.3 1007.1,728.3 1008.1,718.8 1009.2,710.7 1010.2,703.8 1011.2,698.0 1012.2,693.2 1013.2,689.3 1014.3,686.1 1015.3,683.5 1016.3,681.5 1017.3,679.9 1018.4,678.7 1019.4,677.8 1020.4,677.1 1021.4,676.6 1022.4,676.2 1023.5,676.0 1024.5,675.7 1025.5,675.5 1026.5,675.3 1029.5,675.3 1029.8,713.2 1030.2,751.2 1030.8,789.1 1031.6,827.0 1032.4,865.0 1033.3,902.9 1034.3,940.9 1035.3,978.8 1036.3,941.9 1037.4,908.5 1038.4,878.3 1039.4,851.3 1040.4,827.0 1041.5,805.4 1042.5,786.3 1043.5,769.4 1044.5,754.5 1045.5,741.5 1046.6,730.3 1047.6,720.6 1048.6,712.3 1049.6,705.2 1050.7,699.3 1051.7,694.4 1052.7,690.3 1053.7,687.0 1054.7,684.3 1055.8,682.2 1056.8,680.6 1057.8,679.3 1058.8,678.3 1059.8,677.6 1060.9,677.1 1061.9,676.7 1062.9,676.4 1063.9,676.2 1065.0,676.0 1066.0,675.8 1069.0,675.8 1069.2,713.4 1069.7,750.9 1070.3,788.5 1071.0,826.0 1071.8,863.6 1072.7,901.2 1073.7,938.7 1074.8,976.3 1075.8,940.5 1076.8,908.1 1077.8,878.8 1078.9,852.5 1079.9,829.0 1080.9,807.9 1081.9,789.3 1082.9,772.8 1084.0,758.2 1085.0,745.5 1086.0,734.5 1087.0,725.0 1088.1,716.8 1089.1,709.9 1090.1,704.0 1091.1,699.2 1092.1,695.1 1093.2,691.8 1094.2,689.2 1095.2,687.1 1096.2,685.4 1097.2,684.2 1098.3,683.2 1099.3,682.5 1100.3,682.0 1101.3,681.6 1102.4,681.3 1103.4,681.1 1104.4,680.9 1105.4,680.7 1108.4,680.7 1108.7,717.4 1109.1,754.1 1109.8,790.9 1110.5,827.6 1111.3,864.3 1112.2,901.0 1113.2,937.8 1114.2,974.5 1115.2,939.8 1116.3,908.4 1117.3,880.0 1118.3,854.5 1119.3,831.6 1120.3,811.1 1121.4,793.0 1122.4,776.9 1123.4,762.7 1124.4,750.3 1125.5,739.5 1126.5,730.2 1127.5,722.1 1128.5,715.3 1129.5,709.6 1130.6,704.7 1131.6,700.7 1132.6,697.5 1133.6,694.8 1134.7,692.7 1135.7,691.1 1136.7,689.8 1137.7,688.9 1138.7,688.1 1139.8,687.6 1140.8,687.2 1141.8,686.9 1142.8,686.7 1143.8,686.6 1144.9,686.4 1147.9,686.4 1148.1,722.6 1148.6,758.9 1149.2,795.1 1149.9,831.3 1150.7,867.6 1151.6,903.8 1152.6,940.1 1153.7,976.3 1154.7,942.3 1155.7,911.4 1156.7,883.5 1157.8,858.4 1158.8,835.9 1159.8,815.7 1160.8,797.8 1161.8,781.9 1162.9,767.9 1163.9,755.6 1164.9,744.9 1165.9,735.6 1166.9,727.6 1168.0,720.8 1169.0,715.1 1170.0,710.3 1171.0,706.3 1172.1,703.0 1173.1,700.3 1174.1,698.2 1175.1,696.5 1176.1,695.2 1177.2,694.3 1178.2,693.5 1179.2,693.0 1180.2,692.6 1181.2,692.3 1182.3,692.1 1183.3,691.9 1184.3,691.8 1187.3,691.8 1187.6,728.4 1188.0,765.1 1188.6,801.7 1189.4,838.3 1190.2,875.0 1191.1,911.6 1192.1,948.3 1193.1,984.9 1194.1,950.9 1195.2,920.1 1196.2,892.3 1197.2,867.1 1198.2,844.5 1199.2,824.3 1200.3,806.4 1201.3,790.4 1202.3,776.3 1203.3,763.9 1204.3,753.2 1205.4,743.8 1206.4,735.7 1207.4,728.8 1208.4,723.0 1209.5,718.1 1210.5,714.0 1211.5,710.7 1212.5,707.9 1213.5,705.8 1214.6,704.0 1215.6,702.7 1216.6,701.7 1217.6,700.9 1218.7,700.4 1219.7,700.0 1220.7,699.7 1221.7,699.5 1222.7,699.3 1223.8,699.2 1226.8,699.2 1227.0,734.3 1227.5,769.4 1228.1,804.5 1228.8,839.6 1229.7,874.7 1230.6,909.8 1231.5,944.9 1232.6,980.0 1233.6,947.9 1234.6,918.7 1235.6,892.2 1236.6,868.4 1237.7,847.0 1238.7,827.8 1239.7,810.7 1240.7,795.5 1241.8,782.0 1242.8,770.2 1243.8,759.9 1244.8,750.9 1245.8,743.2 1246.9,736.6 1247.9,731.0 1248.9,726.2 1249.9,722.3 1250.9,719.0 1252.0,716.4 1253.0,714.3 1254.0,712.6 1255.0,711.3 1256.1,710.3 1257.1,709.6 1258.1,709.0 1259.1,708.6 1260.1,708.4 1261.2,708.2 1262.2,708.0 1263.2,707.9 1266.2,707.9 1266.5,741.8 1267.0,775.6 1267.6,809.5 1268.3,843.3 1269.1,877.2 1270.0,911.1 1271.0,944.9 1272.0,978.8 1273.0,948.6 1274.0,921.2 1275.1,896.4 1276.1,873.9 1277.1,853.7 1278.1,835.7 1279.2,819.5 1280.2,805.1 1281.2,792.4 1282.2,781.3 1283.2,771.5 1284.3,763.0 1285.3,755.6 1286.3,749.3 1287.3,744.0 1288.3,739.5 1289.4,735.7 1290.4,732.6 1291.4,730.0 1292.4,728.0 1293.5,726.3 1294.5,725.1 1295.5,724.1 1296.5,723.4 1297.5,722.9 1298.6,722.5 1299.6,722.2 1300.6,722.0 1301.6,721.9 1302.7,721.8 1305.7,721.8 1305.9,754.1 1306.4,786.3 1307.1,818.6 1307.8,850.9 1308.6,883.2 1309.5,915.5 1310.4,947.7 1311.5,980.0 1312.5,951.0 1313.5,924.6 1314.5,900.7 1315.5,879.1 1316.6,859.6 1317.6,842.2 1318.6,826.7 1319.6,812.9 1320.6,800.7 1321.7,789.9 1322.7,780.5 1323.7,772.3 1324.7,765.3 1325.8,759.2 1326.8,754.1 1327.8,749.7 1328.8,746.1 1329.8,743.1 1330.9,740.7 1331.9,738.7 1332.9,737.2 1333.9,736.0 1334.9,735.0 1336.0,734.4 1337.0,733.9 1338.0,733.5 1339.0,733.3 1340.1,733.1 1341.1,733.0 1342.1,732.9 1345.1,732.9 1345.4,764.2 1345.9,795.4 1346.5,826.7 1347.3,858.0 1348.1,889.2 1348.9,920.5 1349.9,951.7 1350.9,983.0 1351.9,954.5 1352.9,928.7 1354.0,905.3 1355.0,884.1 1356.0,865.1 1357.0,848.0 1358.0,832.8 1359.1,819.3 1360.1,807.3 1361.1,796.8 1362.1,787.6 1363.2,779.5 1364.2,772.6 1365.2,766.7 1366.2,761.6 1367.2,757.4 1368.3,753.8 1369.3,750.9 1370.3,748.5 1371.3,746.6 1372.3,745.1 1373.4,743.9 1374.4,743.0 1375.4,742.3 1376.4,741.8 1377.5,741.5 1378.5,741.3 1379.5,741.1 1380.5,741.0 1381.5,740.9 1384.5,740.9 1384.8,771.7 1385.4,802.5 1386.0,833.3 1386.7,864.1 1387.5,895.0 1388.4,925.8 1389.3,956.6 1390.3,987.4 1391.4,959.7 1392.4,934.5 1393.4,911.6 1394.4,891.0 1395.4,872.5 1396.5,855.8 1397.5,841.0 1398.5,827.8 1399.5,816.1 1400.6,805.9 1401.6,796.9 1402.6,789.1 1403.6,782.3 1404.6,776.5 1405.7,771.6 1406.7,767.5 1407.7,764.0 1408.7,761.1 1409.8,758.8 1410.8,757.0 1411.8,755.5 1412.8,754.3 1413.8,753.4 1414.9,752.8 1415.9,752.3 1416.9,752.0 1417.9,751.8 1418.9,751.6 1420.0,751.5 1421.0,751.4 1424.0,751.4 1424.3,780.8 1424.8,810.1 1425.5,839.5 1426.2,868.8 1427.0,898.2 1427.9,927.5 1428.8,956.9 1429.8,986.2 1430.8,959.9 1431.8,936.0 1432.9,914.4 1433.9,894.8 1434.9,877.2 1435.9,861.5 1436.9,847.4 1438.0,834.9 1439.0,823.8 1440.0,814.1 1441.0,805.6 1442.0,798.2 1443.1,791.8 1444.1,786.3 1445.1,781.7 1446.1,777.7 1447.2,774.4 1448.2,771.7 1449.2,769.5 1450.2,767.8 1451.2,766.4 1452.3,765.3 1453.3,764.4 1454.3,763.8 1455.3,763.4 1456.3,763.1 1457.4,762.8 1458.4,762.7 1459.4,762.6 1460.4,762.5 1463.4,762.5 1463.8,790.6 1464.3,818.7 1464.9,846.8 1465.7,875.0 1466.5,903.1 1467.3,931.2 1468.3,959.3 1469.2,987.4 1470.3,961.3 1471.3,937.5 1472.3,916.0 1473.3,896.5 1474.3,879.0 1475.4,863.4 1476.4,849.4 1477.4,836.9 1478.4,825.9 1479.4,816.2 1480.5,807.8 1481.5,800.4 1482.5,794.0 1483.5,788.6 1484.6,784.0 1485.6,780.0 1486.6,776.8 1487.6,774.1 1488.6,771.9 1489.7,770.1 1490.7,768.7 1491.7,767.7 1492.7,766.8 1493.8,766.2 1494.8,765.8 1495.8,765.5 1496.8,765.2 1497.8,765.1 1498.9,765.0 1499.9,764.9 1502.9,764.9 1503.2,792.7 1503.7,820.5 1504.4,848.3 1505.1,876.1 1505.9,904.0 1506.8,931.8 1507.7,959.6 1508.7,987.4 1509.7,961.9 1510.7,938.8 1511.7,917.8 1512.8,898.9 1513.8,881.9 1514.8,866.6 1515.8,853.0 1516.9,840.8 1517.9,830.1 1518.9,820.7 1519.9,812.5 1520.9,805.3 1522.0,799.1 1523.0,793.8 1524.0,789.3 1525.0,785.5 1526.0,782.3 1527.1,779.7 1528.1,777.5 1529.1,775.8 1530.1,774.4 1531.2,773.4 1532.2,772.6 1533.2,772.0 1534.2,771.5 1535.2,771.2 1536.3,771.0 1537.3,770.9 1538.3,770.8 1539.3,770.7 1542.3,770.7 1542.7,797.8 1543.2,824.9 1543.8,852.0 1544.6,879.0 1545.4,906.1 1546.2,933.2 1547.2,960.3 1548.1,987.4 1549.1,962.9 1550.2,940.6 1551.2,920.4 1552.2,902.1 1553.2,885.7 1554.3,871.0 1555.3,857.9 1556.3,846.2 1557.3,835.9 1558.3,826.8 1559.4,818.8 1560.4,811.9 1561.4,806.0 1562.4,800.8 1563.4,796.5 1564.5,792.8 1565.5,789.8 1566.5,787.2 1567.5,785.2 1568.6,783.5 1569.6,782.2 1570.6,781.2 1571.6,780.4 1572.6,779.8 1573.7,779.4 1574.7,779.1 1575.7,778.9 1576.7,778.8 1577.8,778.7 1578.8,778.6 1581.8,778.6 1582.1,804.7 1582.7,830.8 1583.3,856.9 1584.0,883.0 1584.8,909.1 1585.7,935.2 1586.6,961.3 1587.6,987.4 1588.6,963.2 1589.6,941.3 1590.6,921.4 1591.7,903.4 1592.7,887.3 1593.7,872.8 1594.7,859.8 1595.7,848.3 1596.8,838.2 1597.8,829.2 1598.8,821.4 1599.8,814.6 1600.9,808.7 1601.9,803.7 1602.9,799.4 1603.9,795.8 1604.9,792.8 1606.0,790.3 1607.0,788.3 1608.0,786.6 1609.0,785.3 1610.0,784.3 1611.1,783.6 1612.1,783.0 1613.1,782.6 1614.1,782.3 1615.2,782.1 1616.2,782.0 1617.2,781.9 1618.2,781.8 1621.2,781.8 1621.6,807.8 1622.1,833.8 1622.8,859.8 1623.5,885.8 1624.3,911.9 1625.1,937.9 1626.1,963.9 1627.0,989.9 1628.0,966.1 1629.1,944.4 1630.1,924.8 1631.1,907.1 1632.1,891.2 1633.1,876.9 1634.2,864.1 1635.2,852.8 1636.2,842.8 1637.2,834.0 1638.3,826.3 1639.3,819.6 1640.3,813.8 1641.3,808.8 1642.3,804.6 1643.4,801.0 1644.4,798.0 1645.4,795.6 1646.4,793.6 1647.4,792.0 1648.5,790.7 1649.5,789.7 1650.5,789.0 1651.5,788.4 1652.6,788.0 1653.6,787.7 1654.6,787.5 1655.6,787.4 1656.6,787.3 1657.7,787.2 1660.7,787.2 1661.0,812.4 1661.6,837.6 1662.2,862.8 1663.0,888.0 1663.8,913.1 1664.6,938.3 1665.5,963.5 1666.5,988.7 1667.5,965.3 1668.5,944.1 1669.5,924.8 1670.6,907.4 1671.6,891.8 1672.6,877.8 1673.6,865.2 1674.6,854.1 1675.7,844.3 1676.7,835.6 1677.7,828.0 1678.7,821.5 1679.7,815.8 1680.8,810.9 1681.8,806.7 1682.8,803.2 1683.8,800.3 1684.9,797.9 1685.9,796.0 1686.9,794.4 1687.9,793.1 1688.9,792.2 1690.0,791.4 1691.0,790.9 1692.0,790.5 1693.0,790.2 1694.0,790.0 1695.1,789.9 1696.1,789.8 1697.1,789.7 1700.1,789.7 1700.5,814.4 1701.0,839.1 1701.7,863.8 1702.4,888.5 1703.2,913.3 1704.1,938.0 1705.0,962.7 1705.9,987.4 1706.9,964.6 1708.0,943.9 1709.0,925.1 1710.0,908.2 1711.0,892.9 1712.0,879.2 1713.1,867.0 1714.1,856.2 1715.1,846.6 1716.1,838.2 1717.1,830.8 1718.2,824.4 1719.2,818.8 1720.2,814.1 1721.2,810.0 1722.3,806.6 1723.3,803.8 1724.3,801.4 1725.3,799.5 1726.3,798.0 1727.4,796.7 1728.4,795.8 1729.4,795.1 1730.4,794.5 1731.4,794.2 1732.5,793.9 1733.5,793.7 1734.5,793.6 1735.5,793.5 1736.6,793.4 1739.6,793.4 1739.9,817.6 1740.5,841.9 1741.1,866.1 1741.9,890.4 1742.7,914.6 1743.5,938.9 1744.4,963.1 1745.4,987.4 1746.4,965.0 1747.4,944.7 1748.4,926.3 1749.4,909.7 1750.5,894.7 1751.5,881.3 1752.5,869.3 1753.5,858.7 1754.5,849.3 1755.6,841.0 1756.6,833.8 1757.6,827.5 1758.6,822.0 1759.7,817.4 1760.7,813.4 1761.7,810.1 1762.7,807.3 1763.7,805.0 1764.8,803.1 1765.8,801.6 1766.8,800.4 1767.8,799.5 1768.9,798.7 1769.9,798.2 1770.9,797.8 1771.9,797.6 1772.9,797.4 1774.0,797.3 1775.0,797.2 1776.0,797.1 1779.0,797.1 1779.4,821.6 1779.9,846.2 1780.6,870.8 1781.3,895.3 1782.1,919.9 1783.0,944.4 1783.9,969.0 1784.8,993.5 1785.8,970.3 1786.8,949.2 1787.9,930.1 1788.9,912.8 1789.9,897.3 1790.9,883.3 1792.0,870.9 1793.0,859.9 1794.0,850.1 1795.0,841.5 1796.0,834.0 1797.1,827.4 1798.1,821.8 1799.1,816.9 1800.1,812.8 1801.1,809.4 1802.2,806.5 1803.2,804.1 1804.2,802.1 1805.2,800.5 1806.3,799.3 1807.3,798.3 1808.3,797.6 1809.3,797.1 1810.3,796.7 1811.4,796.4 1812.4,796.2 1813.4,796.1 1814.4,796.0 1815.4,795.9 1818.4,795.9 1818.8,820.6 1819.4,845.3 1820.0,870.0 1820.7,894.7 1821.5,919.4 1822.4,944.1 1823.3,968.8 1824.2,993.5 1825.3,970.4 1826.3,949.4 1827.3,930.4 1828.3,913.3 1829.4,897.8 1830.4,884.0 1831.4,871.6 1832.4,860.7 1833.4,851.0 1834.5,842.4 1835.5,834.9 1836.5,828.4 1837.5,822.8 1838.5,818.0 1839.6,813.9 1840.6,810.5 1841.6,807.6 1842.6,805.2 1843.7,803.3 1844.7,801.7 1845.7,800.5 1846.7,799.5 1847.7,798.8 1848.8,798.3 1849.8,797.9 1850.8,797.6 1851.8,797.4 1852.9,797.3 1853.9,797.2 1854.9,797.1 1857.9,797.1 1858.3,821.4 1858.8,845.7 1859.5,870.0 1860.2,894.3 1861.0,918.6 1861.9,942.9 1862.8,967.2 1863.7,991.5 1864.7,968.9 1865.7,948.4 1866.8,929.9 1867.8,913.1 1868.8,898.0 1869.8,884.5 1870.8,872.4 1871.9,861.6 1872.9,852.2 1873.9,843.8 1874.9,836.5 1876.0,830.1 1877.0,824.7 1878.0,819.9 1879.0,815.9 1880.0,812.6 1881.1,809.8 1882.1,807.4 1883.1,805.5 1884.1,804.0 1885.1,802.8 1886.2,801.9 1887.2,801.2 1888.2,800.6 1889.2,800.2 1890.3,800.0 1891.3,799.8 1892.3,799.7 1893.3,799.6 1894.3,799.5 1897.3,799.5 1897.7,823.6 1898.3,847.7 1898.9,871.8 1899.7,895.9 1900.4,920.0 1901.3,944.1 1902.2,968.2 1903.1,992.3 1904.2,969.6 1905.2,949.1 1906.2,930.4 1907.2,913.6 1908.2,898.4 1909.3,884.8 1910.3,872.7 1911.3,861.9 1912.3,852.4 1913.4,844.0 1914.4,836.7 1915.4,830.3 1916.4,824.8 1917.4,820.0 1918.5,816.0 1919.5,812.6 1920.5,809.8 1921.5,807.5 1922.5,805.6 1923.6,804.0 1924.6,802.8 1925.6,801.9 1926.6,801.2 1927.7,800.6 1928.7,800.3 1929.7,800.0 1930.7,799.8 1931.7,799.7 1932.8,799.6 1933.8,799.5 1936.8,799.5 1937.2,823.6 1937.7,847.7 1938.4,871.8 1939.1,895.9 1939.9,920.0 1940.7,944.1 1941.6,968.2 1942.6,992.3 1943.6,969.6 1944.6,949.1 1945.7,930.4 1946.7,913.6 1947.7,898.4 1948.7,884.8 1949.7,872.7 1950.8,861.9 1951.8,852.4 1952.8,844.0 1953.8,836.7 1954.8,830.3 1955.9,824.8 1956.9,820.0 1957.9,816.0 1958.9,812.6 1960.0,809.8 1961.0,807.5 1962.0,805.6 1963.0,804.0 1964.0,802.8 1965.1,801.9 1966.1,801.2 1967.1,800.6 1968.1,800.3 1969.1,800.0 1970.2,799.8 1971.2,799.7 1972.2,799.6 1973.2,799.5 1976.2,799.5 1976.6,823.6 1977.2,847.7 1977.8,871.8 1978.5,895.9 1979.3,920.0 1980.2,944.1 1981.1,968.2 1982.0,992.3 1983.1,969.6 1984.1,949.1 1985.1,930.4 1986.1,913.6 1987.1,898.4 1988.2,884.8 1989.2,872.7 1990.2,861.9 1991.2,852.4 1992.2,844.0 1993.3,836.7 1994.3,830.3 1995.3,824.8 1996.0,821.6" fill="none" stroke="#000000" stroke-width="5.8" stroke-linejoin="miter" stroke-miterlimit="1.45" stroke-linecap="butt"/>
<polyline points="298.5,361.0 299.1,352.3 299.7,344.5 300.2,337.5 300.8,331.2 301.4,325.5 302.0,320.5 302.5,316.1 303.1,312.2 303.7,308.8 304.3,305.8 304.8,303.2 305.4,301.0 306.0,299.2 306.6,297.6 307.1,296.3 307.7,295.2 308.3,294.3 308.9,293.6 309.5,293.1 310.0,292.7 310.6,292.3 311.2,292.1 311.8,291.9 312.3,291.8 312.9,291.8 313.5,291.7 314.1,291.7 314.6,291.7 315.2,291.7 315.8,291.7 315.9,365.5 316.2,439.3 316.6,513.1 317.2,586.8 318.1,660.6 319.1,734.4 320.2,808.2 321.6,882.0 322.7,801.2 323.8,729.1 324.9,665.1 326.0,608.4 327.1,558.6 328.2,515.1 329.3,477.3 330.4,444.6 331.5,416.6 332.6,392.9 333.7,372.9 334.8,356.3 335.9,342.6 337.0,331.5 338.1,322.6 339.1,315.6 340.2,310.3 341.3,306.3 342.4,303.4 343.5,301.4 344.6,300.0 345.7,299.2 346.8,298.7 347.9,298.4 349.0,298.3 350.1,298.3 351.2,298.3 352.3,298.3 353.4,298.3 354.5,298.3 354.6,371.6 354.9,444.8 355.3,518.1 356.0,591.4 356.8,664.7 357.8,738.0 358.9,811.2 360.3,884.5 361.4,803.4 362.5,731.0 363.6,666.6 364.7,609.8 365.8,559.8 366.9,516.0 368.0,478.0 369.1,445.2 370.2,417.1 371.3,393.3 372.4,373.2 373.5,356.5 374.6,342.8 375.7,331.6 376.8,322.7 377.8,315.7 378.9,310.3 380.0,306.3 381.1,303.4 382.2,301.4 383.3,300.0 384.4,299.2 385.5,298.7 386.6,298.4 387.7,298.3 388.8,298.3 389.9,298.3 391.0,298.3 392.1,298.3 393.2,298.3 393.3,372.3 393.6,446.3 394.0,520.4 394.6,594.4 395.5,668.4 396.5,742.5 397.6,816.5 399.0,890.5 400.1,808.5 401.2,735.4 402.3,670.4 403.4,613.0 404.5,562.4 405.6,518.3 406.7,479.9 407.8,446.7 408.9,418.3 410.0,394.2 411.1,374.0 412.2,357.1 413.3,343.2 414.4,331.9 415.5,322.9 416.5,315.9 417.6,310.5 418.7,306.4 419.8,303.5 420.9,301.4 422.0,300.0 423.1,299.2 424.2,298.7 425.3,298.4 426.4,298.3 427.5,298.3 428.6,298.3 429.7,298.3 430.8,298.3 431.9,298.3 432.0,373.9 432.3,449.5 432.7,525.1 433.4,600.6 434.2,676.2 435.2,751.8 436.3,827.4 437.7,903.0 438.8,820.1 439.9,746.0 441.0,680.3 442.1,622.1 443.2,571.0 444.3,526.3 445.4,487.4 446.5,453.9 447.6,425.2 448.7,400.8 449.8,380.3 450.9,363.2 452.0,349.2 453.1,337.7 454.2,328.6 455.2,321.5 456.3,316.0 457.4,311.9 458.5,308.9 459.6,306.8 460.7,305.4 461.8,304.6 462.9,304.1 464.0,303.8 465.1,303.7 466.2,303.7 467.3,303.7 468.4,303.7 469.5,303.7 470.6,303.7 470.7,378.8 471.0,453.8 471.4,528.9 472.1,604.0 472.9,679.0 473.9,754.1 475.0,829.1 476.4,904.2 477.5,821.4 478.6,747.6 479.7,682.0 480.8,623.9 481.9,572.9 483.0,528.3 484.1,489.5 485.2,456.1 486.3,427.4 487.4,403.1 488.5,382.6 489.6,365.6 490.7,351.6 491.8,340.2 492.9,331.1 493.9,324.0 495.0,318.5 496.1,314.4 497.2,311.4 498.3,309.3 499.4,307.9 500.5,307.1 501.6,306.6 502.7,306.3 503.8,306.2 504.9,306.2 506.0,306.2 507.1,306.2 508.2,306.2 509.3,306.2 509.4,381.7 509.7,455.9 510.1,530.2 510.8,604.5 511.6,678.7 512.6,753.0 513.7,827.2 515.1,901.5 516.2,821.0 517.3,749.1 518.4,685.3 519.5,628.9 520.6,579.3 521.7,535.9 522.8,498.1 523.9,465.6 525.0,437.7 526.1,414.0 527.2,394.1 528.3,377.6 529.4,363.9 530.5,352.8 531.6,344.0 532.6,337.1 533.7,331.7 534.8,327.8 535.9,324.9 537.0,322.8 538.1,321.5 539.2,320.7 540.3,320.2 541.4,319.9 542.5,319.8 543.6,319.8 544.7,319.8 545.8,319.8 546.9,319.8 548.0,319.8 548.1,393.0 548.4,465.7 548.8,538.3 549.5,611.0 550.3,683.6 551.3,756.2 552.4,828.9 553.8,901.5 554.4,855.3 555.0,811.9 555.6,771.2 556.2,733.1 556.8,697.5 557.4,664.2 558.0,633.2 558.6,604.4 559.2,577.7 559.8,552.9 560.4,530.0 561.0,508.9 561.6,489.5 562.2,471.7 562.8,455.5 563.4,440.7 564.0,427.2 564.6,415.0 565.2,404.0 565.8,394.1 566.4,385.3 567.0,377.4 567.6,370.4 568.2,364.3 568.8,358.9 569.4,354.3 570.0,350.3 570.6,346.8 571.2,343.9 571.8,341.5 586.7,350.6 586.8,419.5 587.1,488.3 587.6,557.2 588.2,626.0 589.0,694.9 590.0,763.8 591.2,832.6 592.5,901.5 593.1,857.1 593.7,815.4 594.3,776.5 594.9,740.0 595.5,706.1 596.1,674.5 596.7,645.1 597.3,617.9 597.9,592.8 598.5,569.7 599.1,548.4 599.7,529.0 600.3,511.2 600.9,495.0 601.5,480.4 602.1,467.1 602.7,455.3 603.3,444.7 603.9,435.2 604.5,426.9 605.1,419.6 605.7,413.2 606.3,407.7 606.9,403.0 607.5,399.1 608.1,395.7 608.7,393.0 609.3,390.8 609.9,389.1 610.5,387.7 625.4,407.4 625.5,469.5 625.9,531.6 626.4,593.7 627.0,655.8 627.8,717.9 628.8,780.0 629.9,842.1 631.2,904.2 631.8,862.9 632.4,824.1 633.0,787.8 633.6,754.0 634.2,722.4 634.8,693.0 635.4,665.8 636.0,640.6 636.6,617.3 637.2,595.8 637.8,576.1 638.4,558.1 639.0,541.6 639.6,526.7 640.2,513.2 640.8,501.0 641.4,490.0 642.0,480.3 642.6,471.6 643.2,463.9 643.8,457.3 644.4,451.4 645.0,446.4 645.6,442.2 646.2,438.6 646.8,435.6 647.4,433.1 648.0,431.1 648.6,429.6 649.2,428.4 664.1,460.5 664.2,519.6 664.6,578.8 665.1,637.9 665.8,697.0 666.6,756.1 667.6,815.2 668.7,874.4 669.9,933.5 670.5,896.3 671.1,861.4 671.7,828.8 672.3,798.3 672.9,769.9 673.5,743.6 674.1,719.1 674.7,696.4 675.3,675.5 675.9,656.3 676.5,638.6 677.1,622.5 677.7,607.8 678.3,594.4 678.9,582.3 679.5,571.5 680.1,561.7 680.7,553.0 681.3,545.3 681.9,538.6 682.5,532.6 683.1,527.5 683.7,523.1 684.3,519.3 684.9,516.2 685.5,513.6 686.1,511.4 686.7,509.7 687.3,508.4 687.9,507.4 702.8,530.8 703.0,581.1 703.4,631.5 703.9,681.8 704.6,732.1 705.4,782.5 706.4,832.8 707.4,883.2 708.6,933.5 709.2,899.5 709.9,867.8 710.5,838.3 711.1,810.9 711.8,785.4 712.4,762.0 713.1,740.3 713.7,720.4 714.3,702.1 715.0,685.4 715.6,670.3 716.2,656.5 716.9,644.1 717.5,632.9 718.1,622.9 718.8,614.0 719.4,606.2 720.1,599.3 720.7,593.3 721.3,588.1 722.0,583.7 722.6,579.9 723.2,576.8 723.9,574.2 724.5,572.1 725.2,570.5 725.8,569.2 726.4,568.3 727.1,567.6 727.7,567.1 741.5,587.6 741.7,631.2 742.1,674.8 742.7,718.4 743.4,762.0 744.2,805.5 745.2,849.1 746.2,892.7 747.3,936.3 748.0,904.6 748.6,875.1 749.3,847.7 750.0,822.5 750.7,799.2 751.3,777.8 752.0,758.2 752.7,740.3 753.4,724.0 754.0,709.3 754.7,696.0 755.4,684.0 756.1,673.3 756.7,663.8 757.4,655.4 758.1,648.1 758.7,641.7 759.4,636.1 760.1,631.4 760.8,627.5 761.4,624.1 762.1,621.4 762.8,619.2 763.5,617.5 764.1,616.1 764.8,615.1 765.5,614.4 766.2,614.0 766.8,613.7 767.5,613.5 780.2,628.3 780.4,667.4 780.9,706.5 781.5,745.6 782.2,784.8 783.0,823.9 783.9,863.0 784.9,902.1 786.0,941.2 786.7,911.0 787.4,883.1 788.1,857.3 788.8,833.7 789.5,812.0 790.3,792.2 791.0,774.1 791.7,757.8 792.4,743.0 793.1,729.7 793.8,717.9 794.5,707.3 795.2,698.0 795.9,689.8 796.6,682.7 797.4,676.5 798.1,671.3 798.8,666.8 799.5,663.1 800.2,660.1 800.9,657.6 801.6,655.7 802.3,654.2 803.0,653.1 803.8,652.3 804.5,651.7 805.2,651.4 805.9,651.2 806.6,651.1 807.3,651.1 818.9,657.3 819.2,693.8 819.6,730.2 820.2,766.7 821.0,803.2 821.8,839.7 822.7,876.1 823.7,912.6 824.7,949.1 825.4,921.0 826.1,895.0 826.8,871.1 827.5,849.1 828.2,828.9 829.0,810.5 829.7,793.8 830.4,778.6 831.1,765.0 831.8,752.7 832.5,741.7 833.2,732.0 833.9,723.4 834.6,715.8 835.4,709.3 836.1,703.6 836.8,698.8 837.5,694.8 838.2,691.4 838.9,688.6 839.6,686.4 840.3,684.7 841.0,683.3 841.7,682.4 842.5,681.7 843.2,681.2 843.9,680.9 844.6,680.8 845.3,680.7 846.0,680.7 857.6,690.6 857.9,723.2 858.4,755.8 859.0,788.4 859.7,821.0 860.5,853.7 861.4,886.3 862.4,918.9 863.4,951.5 864.1,925.7 864.8,901.8 865.5,879.8 866.2,859.6 867.0,841.1 867.7,824.2 868.4,808.8 869.1,794.9 869.8,782.4 870.5,771.2 871.2,761.2 871.9,752.3 872.6,744.4 873.3,737.6 874.1,731.6 874.8,726.5 875.5,722.2 876.2,718.5 876.9,715.5 877.6,713.0 878.3,711.1 879.0,709.5 879.7,708.3 880.4,707.5 881.2,706.9 881.9,706.5 882.6,706.3 883.3,706.2 884.0,706.1 884.7,706.1 896.3,712.8 896.6,744.0 897.1,775.2 897.7,806.4 898.5,837.6 899.3,868.9 900.2,900.1 901.1,931.3 902.1,962.5 903.0,930.9 903.9,902.3 904.8,876.6 905.7,853.7 906.6,833.2 907.5,815.2 908.4,799.4 909.3,785.6 910.2,773.6 911.1,763.5 912.0,754.9 912.9,747.7 913.8,741.8 914.7,737.0 915.6,733.3 916.5,730.4 917.4,728.3 918.3,726.8 919.2,725.8 920.1,725.1 921.0,724.8 921.9,724.6 922.8,724.6 923.7,724.6 924.6,724.6 925.5,724.6 926.4,724.6 927.3,724.6 928.2,724.6 929.1,724.6 935.0,728.8 935.3,758.4 935.8,788.0 936.5,817.6 937.2,847.1 938.0,876.7 938.9,906.3 939.8,935.9 940.8,965.5 941.7,935.5 942.6,908.4 943.5,884.1 944.4,862.3 945.3,843.0 946.2,826.0 947.1,811.0 948.0,798.0 948.9,786.8 949.8,777.2 950.7,769.1 951.6,762.4 952.5,756.9 953.4,752.5 954.3,749.1 955.2,746.4 956.1,744.5 957.0,743.1 957.9,742.2 958.8,741.6 959.7,741.3 960.6,741.2 961.5,741.2 962.4,741.2 963.3,741.2 964.2,741.2 965.1,741.2 966.0,741.2 966.9,741.2 967.8,741.2 973.7,746.1 974.0,773.5 974.6,801.0 975.2,828.4 975.9,855.8 976.7,883.2 977.6,910.6 978.5,938.1 979.5,965.5 980.2,942.8 980.9,921.9 981.6,902.6 982.3,884.9 983.1,868.8 983.8,854.1 984.5,840.7 985.2,828.7 985.9,817.9 986.6,808.2 987.3,799.6 988.0,792.0 988.7,785.3 989.4,779.5 990.2,774.5 990.9,770.2 991.6,766.6 992.3,763.6 993.0,761.1 993.7,759.1 994.4,757.6 995.1,756.4 995.8,755.5 996.5,754.9 997.3,754.4 998.0,754.2 998.7,754.1 999.4,754.0 1000.1,754.0 1000.8,754.0 1012.4,760.9 1012.8,786.5 1013.3,812.0 1013.9,837.6 1014.7,863.2 1015.5,888.8 1016.3,914.4 1017.2,939.9 1018.2,965.5 1019.1,938.5 1020.0,914.1 1020.9,892.2 1021.8,872.6 1022.7,855.2 1023.6,839.9 1024.5,826.5 1025.4,814.9 1026.3,804.8 1027.2,796.3 1028.1,789.1 1029.0,783.1 1029.9,778.3 1030.8,774.4 1031.7,771.3 1032.6,769.0 1033.5,767.3 1034.4,766.1 1035.3,765.4 1036.2,764.9 1037.1,764.7 1038.0,764.6 1038.9,764.6 1039.8,764.6 1040.7,764.6 1041.6,764.6 1042.5,764.6 1043.4,764.6 1044.3,764.6 1045.2,764.6 1051.1,768.3 1051.5,793.1 1052.0,817.8 1052.7,842.6 1053.4,867.4 1054.2,892.2 1055.0,917.0 1056.0,941.7 1056.9,966.5 1058.0,935.2 1059.1,907.7 1060.2,883.6 1061.3,862.7 1062.4,844.8 1063.5,829.5 1064.6,816.7 1065.7,806.1 1066.8,797.5 1067.9,790.6 1069.0,785.3 1070.1,781.3 1071.2,778.3 1072.3,776.3 1073.3,775.0 1074.4,774.3 1075.5,773.9 1076.6,773.8 1077.7,773.8 1078.8,773.8 1079.9,773.8 1081.0,773.8 1082.1,773.8 1083.2,773.8 1084.3,773.8 1085.4,773.8 1086.5,773.8 1087.6,773.8 1088.7,773.8 1089.8,773.8 1090.2,798.6 1090.7,822.8 1091.4,846.9 1092.1,871.0 1092.9,895.1 1093.8,919.2 1094.7,943.4 1095.6,967.5 1096.5,942.2 1097.4,919.3 1098.3,898.8 1099.2,880.5 1100.1,864.3 1101.0,849.9 1101.9,837.4 1102.8,826.5 1103.7,817.1 1104.6,809.1 1105.5,802.3 1106.4,796.8 1107.3,792.2 1108.2,788.5 1109.1,785.7 1110.0,783.5 1110.9,781.9 1111.8,780.8 1112.7,780.1 1113.6,779.7 1114.5,779.5 1115.4,779.4 1116.3,779.4 1117.2,779.4 1118.1,779.4 1119.0,779.4 1119.9,779.4 1120.8,779.4 1121.7,779.4 1122.6,779.4 1128.5,781.9 1128.9,805.3 1129.4,828.6 1130.1,852.0 1130.8,875.4 1131.6,898.8 1132.5,922.1 1133.4,945.5 1134.3,968.9 1135.4,939.0 1136.5,912.6 1137.6,889.5 1138.7,869.5 1139.8,852.4 1140.9,837.8 1142.0,825.5 1143.1,815.4 1144.2,807.1 1145.3,800.5 1146.4,795.4 1147.5,791.5 1148.6,788.7 1149.7,786.8 1150.8,785.6 1151.8,784.9 1152.9,784.5 1154.0,784.4 1155.1,784.4 1156.2,784.4 1157.3,784.4 1158.4,784.4 1159.5,784.4 1160.6,784.4 1161.7,784.4 1162.8,784.4 1163.9,784.4 1165.0,784.4 1166.1,784.4 1167.2,784.4 1167.6,808.0 1168.1,831.7 1168.8,855.3 1169.5,879.0 1170.3,902.6 1171.2,926.2 1172.1,949.9 1173.0,973.5 1174.1,943.4 1175.2,916.9 1176.3,893.8 1177.4,873.7 1178.5,856.4 1179.6,841.7 1180.7,829.4 1181.8,819.2 1182.9,810.9 1184.0,804.3 1185.1,799.2 1186.2,795.3 1187.3,792.5 1188.4,790.5 1189.5,789.3 1190.5,788.6 1191.6,788.2 1192.7,788.1 1193.8,788.1 1194.9,788.1 1196.0,788.1 1197.1,788.1 1198.2,788.1 1199.3,788.1 1200.4,788.1 1201.5,788.1 1202.6,788.1 1203.7,788.1 1204.8,788.1 1205.9,788.1 1206.3,812.3 1206.8,835.3 1207.5,858.4 1208.2,881.4 1209.0,904.4 1209.9,927.5 1210.8,950.5 1211.7,973.5 1212.6,948.8 1213.5,926.5 1214.4,906.5 1215.3,888.7 1216.2,872.8 1217.1,858.8 1218.0,846.6 1218.9,835.9 1219.8,826.8 1220.7,818.9 1221.6,812.4 1222.5,806.9 1223.4,802.5 1224.3,798.9 1225.2,796.1 1226.1,794.0 1227.0,792.5 1227.9,791.4 1228.8,790.7 1229.7,790.3 1230.6,790.1 1231.5,790.0 1232.4,790.0 1233.3,790.0 1234.2,790.0 1235.1,790.0 1236.0,790.0 1236.9,790.0 1237.8,790.0 1238.7,790.0 1244.6,791.8 1245.0,814.5 1245.5,837.2 1246.2,859.9 1246.9,882.6 1247.7,905.4 1248.6,928.1 1249.5,950.8 1250.4,973.5 1251.3,949.2 1252.2,927.3 1253.1,907.6 1254.0,890.0 1254.9,874.4 1255.8,860.7 1256.7,848.6 1257.6,838.2 1258.5,829.1 1259.4,821.5 1260.3,815.0 1261.2,809.7 1262.1,805.3 1263.0,801.8 1263.9,799.0 1264.8,797.0 1265.7,795.4 1266.6,794.4 1267.5,793.7 1268.4,793.3 1269.3,793.1 1270.2,793.0 1271.1,793.0 1272.0,793.0 1272.9,793.0 1273.8,793.0 1274.7,793.0 1275.6,793.0 1276.5,793.0 1277.4,793.0 1283.3,795.5 1283.7,817.8 1284.3,840.0 1284.9,862.2 1285.7,884.5 1286.4,906.8 1287.3,929.0 1288.2,951.2 1289.1,973.5 1290.2,944.7 1291.3,919.3 1292.4,897.1 1293.5,877.8 1294.6,861.3 1295.7,847.2 1296.8,835.4 1297.9,825.6 1299.0,817.7 1300.1,811.3 1301.2,806.4 1302.3,802.7 1303.4,800.0 1304.5,798.1 1305.6,796.9 1306.6,796.3 1307.7,795.9 1308.8,795.8 1309.9,795.8 1311.0,795.8 1312.1,795.8 1313.2,795.8 1314.3,795.8 1315.4,795.8 1316.5,795.8 1317.6,795.8 1318.7,795.8 1319.8,795.8 1320.9,795.8 1322.0,795.8 1322.4,818.0 1323.0,840.3 1323.6,862.5 1324.4,884.8 1325.1,907.0 1326.0,929.3 1326.9,951.5 1327.8,973.8 1328.9,945.0 1330.0,919.7 1331.1,897.5 1332.2,878.3 1333.3,861.8 1334.4,847.7 1335.5,835.9 1336.6,826.2 1337.7,818.2 1338.8,811.9 1339.9,807.0 1341.0,803.3 1342.1,800.6 1343.2,798.7 1344.2,797.5 1345.3,796.9 1346.4,796.5 1347.5,796.4 1348.6,796.4 1349.7,796.4 1350.8,796.4 1351.9,796.4 1353.0,796.4 1354.1,796.4 1355.2,796.4 1356.3,796.4 1357.4,796.4 1358.5,796.4 1359.6,796.4 1360.7,796.4 1361.1,818.3 1361.7,840.2 1362.3,862.1 1363.1,884.0 1363.9,905.8 1364.7,927.7 1365.6,949.6 1366.5,971.5 1367.6,943.2 1368.7,918.2 1369.8,896.4 1370.9,877.5 1372.0,861.2 1373.1,847.4 1374.2,835.8 1375.3,826.2 1376.4,818.4 1377.5,812.2 1378.6,807.3 1379.7,803.7 1380.8,801.0 1381.9,799.2 1383.0,798.0 1384.0,797.4 1385.1,797.0 1386.2,796.9 1387.3,796.9 1388.4,796.9 1389.5,796.9 1390.6,796.9 1391.7,796.9 1392.8,796.9 1393.9,796.9 1395.0,796.9 1396.1,796.9 1397.2,796.9 1398.3,796.9 1399.4,796.9 1399.8,819.0 1400.4,841.1 1401.0,863.2 1401.8,885.3 1402.5,907.5 1403.4,929.6 1404.3,951.7 1405.2,973.8 1406.3,945.3 1407.4,920.1 1408.5,898.1 1409.6,879.1 1410.7,862.7 1411.8,848.8 1412.9,837.1 1414.0,827.4 1415.1,819.5 1416.2,813.3 1417.3,808.4 1418.4,804.7 1419.5,802.0 1420.6,800.2 1421.7,799.0 1422.7,798.4 1423.8,798.0 1424.9,797.9 1426.0,797.9 1427.1,797.9 1428.2,797.9 1429.3,797.9 1430.4,797.9 1431.5,797.9 1432.6,797.9 1433.7,797.9 1434.8,797.9 1435.9,797.9 1437.0,797.9 1438.1,797.9 1438.5,819.6 1439.1,841.3 1439.7,863.0 1440.5,884.7 1441.3,906.4 1442.1,928.1 1443.0,949.8 1443.9,971.5 1445.0,943.5 1446.1,918.8 1447.2,897.3 1448.3,878.6 1449.4,862.5 1450.5,848.8 1451.6,837.4 1452.7,827.9 1453.8,820.1 1454.9,814.0 1456.0,809.2 1457.1,805.6 1458.2,803.0 1459.3,801.2 1460.3,800.0 1461.4,799.3 1462.5,799.0 1463.6,798.9 1464.7,798.9 1465.8,798.9 1466.9,798.9 1468.0,798.9 1469.1,798.9 1470.2,798.9 1471.3,798.9 1472.4,798.9 1473.5,798.9 1474.6,798.9 1475.7,798.9 1476.8,798.9 1477.2,821.4 1477.8,843.8 1478.4,866.2 1479.1,888.7 1479.9,911.1 1480.8,933.6 1481.7,956.0 1482.6,978.5 1483.7,949.5 1484.8,923.9 1485.9,901.5 1487.0,882.1 1488.1,865.4 1489.2,851.3 1490.3,839.4 1491.4,829.5 1492.5,821.5 1493.6,815.1 1494.7,810.2 1495.8,806.4 1496.9,803.7 1498.0,801.8 1499.1,800.7 1500.1,800.0 1501.2,799.6 1502.3,799.5 1503.4,799.5 1504.5,799.5 1505.6,799.5 1506.7,799.5 1507.8,799.5 1508.9,799.5 1510.0,799.5 1511.1,799.5 1512.2,799.5 1513.3,799.5 1514.4,799.5 1515.5,799.5 1515.9,821.6 1516.5,843.8 1517.1,865.9 1517.9,888.0 1518.6,910.1 1519.5,932.2 1520.4,954.4 1521.3,976.5 1522.4,947.8 1523.5,922.5 1524.6,900.4 1525.7,881.2 1526.8,864.7 1527.9,850.7 1529.0,838.9 1530.1,829.2 1531.2,821.3 1532.3,815.0 1533.4,810.1 1534.5,806.4 1535.6,803.7 1536.7,801.8 1537.8,800.6 1538.8,800.0 1539.9,799.6 1541.0,799.5 1542.1,799.5 1543.2,799.5 1544.3,799.5 1545.4,799.5 1546.5,799.5 1547.6,799.5 1548.7,799.5 1549.8,799.5 1550.9,799.5 1552.0,799.5 1553.1,799.5 1554.2,799.5 1554.6,821.4 1555.2,843.4 1555.8,865.3 1556.6,887.2 1557.4,909.2 1558.2,931.1 1559.1,953.1 1560.0,975.0 1561.1,946.5 1562.2,921.5 1563.3,899.5 1564.4,880.5 1565.5,864.2 1566.6,850.3 1567.7,838.6 1568.8,828.9 1569.9,821.1 1571.0,814.8 1572.1,810.0 1573.2,806.3 1574.3,803.6 1575.4,801.8 1576.5,800.6 1577.5,800.0 1578.6,799.6 1579.7,799.5 1580.8,799.5 1581.9,799.5 1583.0,799.5 1584.1,799.5 1585.2,799.5 1586.3,799.5 1587.4,799.5 1588.5,799.5 1589.6,799.5 1590.7,799.5 1591.8,799.5 1592.9,799.5 1593.3,821.4 1593.9,843.4 1594.5,865.3 1595.3,887.2 1596.1,909.2 1596.9,931.1 1597.8,953.1 1598.7,975.0 1599.8,946.5 1600.9,921.5 1602.0,899.5 1603.1,880.5 1604.2,864.2 1605.3,850.3 1606.4,838.6 1607.5,828.9 1608.6,821.1 1609.7,814.8 1610.8,810.0 1611.9,806.3 1613.0,803.6 1614.1,801.8 1615.2,800.6 1616.2,800.0 1617.3,799.6 1618.4,799.5 1619.5,799.5 1620.6,799.5 1621.7,799.5 1622.8,799.5 1623.9,799.5 1625.0,799.5 1626.1,799.5 1627.2,799.5 1628.3,799.5 1629.4,799.5 1630.5,799.5 1631.6,799.5 1632.0,821.4 1632.6,843.4 1633.2,865.3 1634.0,887.2 1634.8,909.2 1635.6,931.1 1636.5,953.1 1637.4,975.0 1638.5,946.5 1639.6,921.5 1640.7,899.5 1641.8,880.5 1642.9,864.2 1644.0,850.3 1645.1,838.6 1646.2,828.9 1647.3,821.1 1648.4,814.8 1649.5,810.0 1650.6,806.3 1651.7,803.6 1652.8,801.8 1653.8,800.6 1654.9,800.0 1656.0,799.6 1657.1,799.5 1658.2,799.5 1659.3,799.5 1660.4,799.5 1661.5,799.5 1662.6,799.5 1663.7,799.5 1664.8,799.5 1665.9,799.5 1667.0,799.5 1668.1,799.5 1669.2,799.5 1670.3,799.5 1670.7,821.4 1671.3,843.4 1671.9,865.3 1672.7,887.2 1673.5,909.2 1674.3,931.1 1675.2,953.1 1676.1,975.0 1677.2,946.5 1678.3,921.5 1679.4,899.5 1680.5,880.5 1681.6,864.2 1682.7,850.3 1683.8,838.6 1684.9,828.9 1686.0,821.1 1687.1,814.8 1688.2,810.0 1689.3,806.3 1690.4,803.6 1691.5,801.8 1692.6,800.6 1693.6,800.0 1694.7,799.6 1695.8,799.5 1696.9,799.5 1698.0,799.5 1699.1,799.5 1700.2,799.5 1701.3,799.5 1702.4,799.5 1703.5,799.5 1704.6,799.5 1705.7,799.5 1706.8,799.5 1707.9,799.5 1709.0,799.5 1709.4,821.8 1710.0,844.0 1710.6,866.2 1711.4,888.5 1712.1,910.8 1713.0,933.0 1713.9,955.2 1714.8,977.5 1715.9,948.6 1717.0,923.2 1718.1,900.9 1719.2,881.6 1720.3,865.1 1721.4,851.0 1722.5,839.2 1723.6,829.4 1724.7,821.4 1725.8,815.1 1726.9,810.1 1728.0,806.4 1729.1,803.7 1730.2,801.8 1731.2,800.6 1732.3,800.0 1733.4,799.6 1734.5,799.5 1735.6,799.5 1736.7,799.5 1737.8,799.5 1738.9,799.5 1740.0,799.5 1741.1,799.5 1742.2,799.5 1743.3,799.5 1744.4,799.5 1745.5,799.5 1746.6,799.5 1747.7,799.5 1748.1,821.8 1748.7,844.0 1749.3,866.2 1750.1,888.5 1750.8,910.8 1751.7,933.0 1752.6,955.2 1753.5,977.5 1754.6,948.6 1755.7,923.2 1756.8,900.9 1757.9,881.6 1759.0,865.1 1760.1,851.0 1761.2,839.2 1762.3,829.4 1763.4,821.4 1764.5,815.1 1765.6,810.1 1766.7,806.4 1767.8,803.7 1768.9,801.8 1770.0,800.6 1771.0,800.0 1772.1,799.6 1773.2,799.5 1774.3,799.5 1775.4,799.5 1776.5,799.5 1777.6,799.5 1778.7,799.5 1779.8,799.5 1780.9,799.5 1782.0,799.5 1783.1,799.5 1784.2,799.5 1785.3,799.5 1786.4,799.5 1786.8,821.4 1787.4,843.4 1788.0,865.3 1788.8,887.2 1789.6,909.2 1790.4,931.1 1791.3,953.1 1792.2,975.0 1793.3,946.5 1794.4,921.5 1795.5,899.5 1796.6,880.5 1797.7,864.2 1798.8,850.3 1799.9,838.6 1801.0,828.9 1802.1,821.1 1803.2,814.8 1804.3,810.0 1805.4,806.3 1806.5,803.6 1807.6,801.8 1808.7,800.6 1809.7,800.0 1810.8,799.6 1811.9,799.5 1813.0,799.5 1814.1,799.5 1815.2,799.5 1816.3,799.5 1817.4,799.5 1818.5,799.5 1819.6,799.5 1820.7,799.5 1821.8,799.5 1822.9,799.5 1824.0,799.5 1825.1,799.5 1825.5,821.8 1826.1,844.0 1826.7,866.2 1827.5,888.5 1828.2,910.8 1829.1,933.0 1830.0,955.2 1830.9,977.5 1832.0,948.6 1833.1,923.2 1834.2,900.9 1835.3,881.6 1836.4,865.1 1837.5,851.0 1838.6,839.2 1839.7,829.4 1840.8,821.4 1841.9,815.1 1843.0,810.1 1844.1,806.4 1845.2,803.7 1846.3,801.8 1847.3,800.6 1848.4,800.0 1849.5,799.6 1850.6,799.5 1851.7,799.5 1852.8,799.5 1853.9,799.5 1855.0,799.5 1856.1,799.5 1857.2,799.5 1858.3,799.5 1859.4,799.5 1860.5,799.5 1861.6,799.5 1862.7,799.5 1863.8,799.5 1864.2,821.1 1864.8,842.8 1865.4,864.4 1866.2,886.0 1867.0,907.6 1867.8,929.2 1868.7,950.9 1869.6,972.5 1870.7,944.4 1871.8,919.7 1872.9,898.1 1874.0,879.3 1875.1,863.2 1876.2,849.5 1877.3,838.0 1878.4,828.5 1879.5,820.8 1880.6,814.6 1881.7,809.8 1882.8,806.2 1883.9,803.6 1885.0,801.8 1886.1,800.6 1887.1,799.9 1888.2,799.6 1889.3,799.5 1890.4,799.5 1891.5,799.5 1892.6,799.5 1893.7,799.5 1894.8,799.5 1895.9,799.5 1897.0,799.5 1898.1,799.5 1899.2,799.5 1900.3,799.5 1901.4,799.5 1902.5,799.5 1902.9,821.3 1903.5,843.1 1904.1,864.9 1904.9,886.6 1905.7,908.4 1906.5,930.2 1907.4,952.0 1908.3,973.8 1909.4,945.5 1910.5,920.6 1911.6,898.8 1912.7,879.9 1913.8,863.7 1914.9,849.9 1916.0,838.3 1917.1,828.7 1918.2,820.9 1919.3,814.7 1920.4,809.9 1921.5,806.2 1922.6,803.6 1923.7,801.8 1924.8,800.6 1925.8,800.0 1926.9,799.6 1928.0,799.5 1929.1,799.5 1930.2,799.5 1931.3,799.5 1932.4,799.5 1933.5,799.5 1934.6,799.5 1935.7,799.5 1936.8,799.5 1937.9,799.5 1939.0,799.5 1940.1,799.5 1941.2,799.5 1941.6,821.3 1942.2,843.1 1942.8,864.9 1943.6,886.6 1944.4,908.4 1945.2,930.2 1946.1,952.0 1947.0,973.8 1948.1,945.5 1949.2,920.6 1950.3,898.8 1951.4,879.9 1952.5,863.7 1953.6,849.9 1954.7,838.3 1955.8,828.7 1956.9,820.9 1958.0,814.7 1959.1,809.9 1960.2,806.2 1961.3,803.6 1962.4,801.8 1963.5,800.6 1964.5,800.0 1965.6,799.6 1966.7,799.5 1967.8,799.5 1968.9,799.5 1970.0,799.5 1971.1,799.5 1972.2,799.5 1973.3,799.5 1974.4,799.5 1975.5,799.5 1976.6,799.5 1977.7,799.5 1978.8,799.5 1979.9,799.5 1980.3,823.6 1980.8,847.7 1981.5,871.8 1982.2,895.9 1983.0,920.0 1983.9,944.1 1984.8,968.2 1985.7,992.3 1986.8,961.0 1987.9,933.5 1989.0,909.4 1990.1,888.5 1991.2,870.5 1992.3,855.3 1993.4,842.5 1994.5,831.9 1995.6,823.2 1996.0,820.5" fill="none" stroke="#0000ff" stroke-width="5.8" stroke-linejoin="miter" stroke-miterlimit="1.45" stroke-linecap="butt"/>
</g>
<g shape-rendering="crispEdges">
<rect x="1444" y="159" width="546" height="370.9" fill="#000"/>
<rect x="1432" y="148" width="545.7" height="370.8" fill="#000"/>
<rect x="1438" y="153.8" width="534" height="360.2" fill="#fff"/>
<line x1="1457.2" y1="308.5" x2="1597.6" y2="308.5" stroke="#000" stroke-width="5.4"/>
<line x1="1457.2" y1="369.6" x2="1597.6" y2="369.6" stroke="#ff0000" stroke-width="5.4"/>
<line x1="1457.2" y1="430.6" x2="1597.6" y2="430.6" stroke="#0000ff" stroke-width="5.4"/>
</g>
<text transform="translate(1461.00,271.30) scale(1.0900,1)" font-family="'Liberation Serif', 'DejaVu Serif', serif" font-size="62.50" fill="#000" letter-spacing="0.00">V<tspan dy="11.6" font-size="43">c</tspan><tspan dy="-11.6">=1sec,V</tspan><tspan dy="11.6" font-size="43">o</tspan><tspan dy="-11.6">=5sec</tspan></text>
<text transform="translate(1595.60,331.90) scale(1.0950,1)" font-family="'Liberation Serif', 'DejaVu Serif', serif" font-size="62.50" fill="#000" letter-spacing="0.00">P<tspan dy="11.6" font-size="43">in</tspan><tspan dy="-11.6">=0.05MPa</tspan></text>
<text transform="translate(1595.60,392.50) scale(1.0950,1)" font-family="'Liberation Serif', 'DejaVu Serif', serif" font-size="62.50" fill="#000" letter-spacing="0.00">P<tspan dy="11.6" font-size="43">in</tspan><tspan dy="-11.6">=0.08MPa</tspan></text>
<text transform="translate(1595.60,453.20) scale(1.0950,1)" font-family="'Liberation Serif', 'DejaVu Serif', serif" font-size="62.50" fill="#000" letter-spacing="0.00">P<tspan dy="11.6" font-size="43">in</tspan><tspan dy="-11.6">=0.10MPa</tspan></text>
<text transform="translate(276.20,1318.80) scale(1.0760,1)" font-family="'Liberation Serif', 'DejaVu Serif', serif" font-size="94.00" fill="#000" letter-spacing="0.30">0</text>
<text transform="translate(901.50,1318.80) scale(1.0760,1)" font-family="'Liberation Serif', 'DejaVu Serif', serif" font-size="94.00" fill="#000" letter-spacing="0.30">100</text>
<text transform="translate(1577.00,1318.80) scale(1.0760,1)" font-family="'Liberation Serif', 'DejaVu Serif', serif" font-size="94.00" fill="#000" letter-spacing="0.30">200</text>
<text transform="translate(135.50,448.00) scale(1.0760,1)" font-family="'Liberation Serif', 'DejaVu Serif', serif" font-size="94.00" fill="#000" letter-spacing="0.30">100</text>
<text transform="translate(235.00,990.50) scale(1.0760,1)" font-family="'Liberation Serif', 'DejaVu Serif', serif" font-size="94.00" fill="#000" letter-spacing="0.30">0</text>
<text transform="translate(1075.50,1433.00) scale(1.1200,1)" font-family="'Liberation Serif', 'DejaVu Serif', serif" font-size="92.50" fill="#000" letter-spacing="0.00">t(s)</text>
<text transform="translate(92.80,1346.02) rotate(-90) scale(1.0078,1)" font-family="'Liberation Serif', 'DejaVu Serif', serif" font-size="92.50" fill="#000" letter-spacing="0.00">Pressure</text>
<text transform="translate(92.80,1012.60) rotate(-90) scale(1.1507,1)" font-family="'Liberation Serif', 'DejaVu Serif', serif" font-size="92.50" fill="#000" letter-spacing="0.00">of</text>
<text transform="translate(92.80,910.86) rotate(-90) scale(1.0189,1)" font-family="'Liberation Serif', 'DejaVu Serif', serif" font-size="92.50" fill="#000" letter-spacing="0.00">airtight</text>
<text transform="translate(92.80,617.22) rotate(-90) scale(1.0540,1)" font-family="'Liberation Serif', 'DejaVu Serif', serif" font-size="92.50" fill="#000" letter-spacing="0.00">gap</text>
<text transform="translate(92.80,461.63) rotate(-90) scale(1.0324,1)" font-family="'Liberation Serif', 'DejaVu Serif', serif" font-size="92.50" fill="#000" letter-spacing="0.00">part</text>
<text transform="translate(92.80,292.23) rotate(-90) scale(1.2077,1)" font-family="'Liberation Serif', 'DejaVu Serif', serif" font-size="92.50" fill="#000" letter-spacing="0.00">,</text>
<text transform="translate(92.80,271.79) rotate(-90) scale(1.1644,1)" font-family="'Liberation Serif', 'DejaVu Serif', serif" font-size="92.50" fill="#000" letter-spacing="0.00">P</text>
<text transform="translate(113.90,225.71) rotate(-90) scale(1.1538,1)" font-family="'Liberation Serif', 'DejaVu Serif', serif" font-size="66.00" fill="#000" letter-spacing="0.00">a</text>
<text transform="translate(92.80,197.05) rotate(-90) scale(1.0123,1)" font-family="'Liberation Serif', 'DejaVu Serif', serif" font-size="92.50" fill="#000" letter-spacing="0.00">(Pa)</text>
</svg>
</body></html>
